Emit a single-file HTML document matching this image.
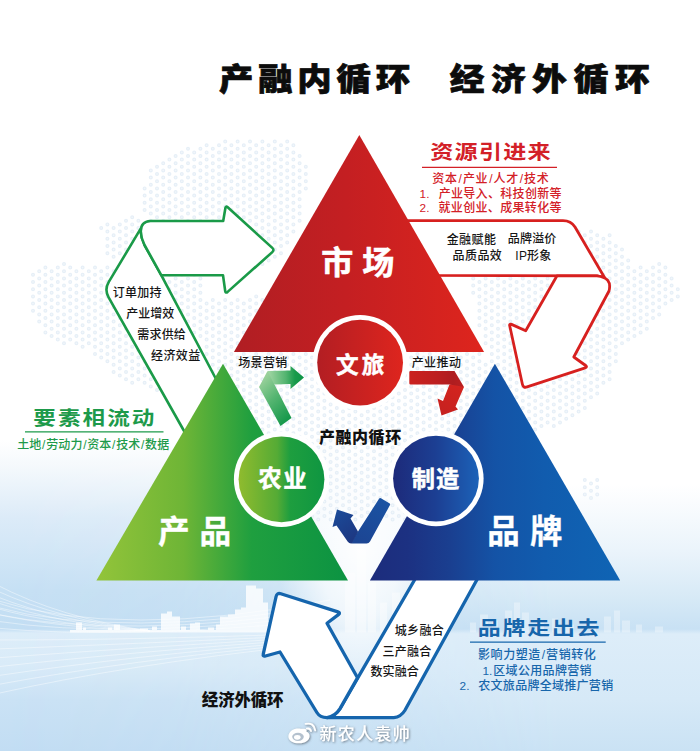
<!DOCTYPE html>
<html lang="zh"><head><meta charset="utf-8"><title>产融内循环 经济外循环</title>
<style>
html,body{margin:0;padding:0;background:#fff}
body{width:700px;height:751px;overflow:hidden;position:relative;font-family:"Liberation Sans",sans-serif}
svg{position:absolute;left:0;top:0;display:block}
svg text{font-family:"Liberation Sans","Noto Sans CJK SC",sans-serif}
.t{position:absolute;white-space:nowrap;color:transparent;line-height:1.2;font-family:"Liberation Sans",sans-serif}
</style></head><body>
<svg width="700" height="751" viewBox="0 0 700 751">
<defs>
<linearGradient id="bgL" x1="0" y1="0" x2="0" y2="751" gradientUnits="userSpaceOnUse"><stop offset="0.0000" stop-color="#fff"/><stop offset="0.5859" stop-color="#fff"/><stop offset="0.6258" stop-color="#f3f8fc"/><stop offset="0.6884" stop-color="#dcebf8"/><stop offset="0.7457" stop-color="#cfe5f6"/><stop offset="0.7856" stop-color="#c6e0f4"/><stop offset="0.8375" stop-color="#c3def3"/><stop offset="0.8429" stop-color="#ddedf9"/><stop offset="0.8855" stop-color="#d9ebf8"/><stop offset="0.9321" stop-color="#cae2f5"/><stop offset="1.0000" stop-color="#c2ddf3"/></linearGradient>
<linearGradient id="bgR" x1="0" y1="0" x2="0" y2="751" gradientUnits="userSpaceOnUse"><stop offset="0.0000" stop-color="#fff"/><stop offset="0.6445" stop-color="#fff"/><stop offset="0.7324" stop-color="#ebf4fb"/><stop offset="0.7989" stop-color="#d6e9f6"/><stop offset="0.8375" stop-color="#c8e1f4"/><stop offset="0.8442" stop-color="#ddedf9"/><stop offset="0.9321" stop-color="#d6e9f7"/><stop offset="1.0000" stop-color="#cae2f4"/></linearGradient>
<linearGradient id="mRg" x1="0" y1="0" x2="700" y2="0" gradientUnits="userSpaceOnUse"><stop offset="0" stop-color="#000"/><stop offset=".25" stop-color="#222"/><stop offset=".8" stop-color="#fff"/><stop offset="1" stop-color="#fff"/></linearGradient>
<mask id="mR" maskUnits="userSpaceOnUse" x="0" y="0" width="700" height="751"><rect width="700" height="751" fill="url(#mRg)"/></mask>
<linearGradient id="gr" x1="234" y1="0" x2="484" y2="0" gradientUnits="userSpaceOnUse">
<stop offset="0" stop-color="#b01e23"/><stop offset=".45" stop-color="#c41f22"/><stop offset="1" stop-color="#de251d"/></linearGradient>
<linearGradient id="gg" x1="96" y1="0" x2="347" y2="0" gradientUnits="userSpaceOnUse">
<stop offset="0" stop-color="#93c43a"/><stop offset=".35" stop-color="#6eb536"/><stop offset=".62" stop-color="#1f9f3f"/><stop offset="1" stop-color="#0c9342"/></linearGradient>
<linearGradient id="gb" x1="370" y1="0" x2="620" y2="0" gradientUnits="userSpaceOnUse">
<stop offset="0" stop-color="#1c2c7c"/><stop offset=".15" stop-color="#1c3182"/><stop offset=".32" stop-color="#1a3f90"/><stop offset=".5" stop-color="#1453a6"/><stop offset=".7" stop-color="#115cae"/><stop offset="1" stop-color="#0f64b4"/></linearGradient>
<linearGradient id="cr" x1="318" y1="0" x2="403" y2="0" gradientUnits="userSpaceOnUse">
<stop offset="0" stop-color="#b31e23"/><stop offset="1" stop-color="#de251e"/></linearGradient>
<linearGradient id="cg" x1="239" y1="0" x2="324" y2="0" gradientUnits="userSpaceOnUse">
<stop offset="0" stop-color="#8fbb2e"/><stop offset=".45" stop-color="#55ab35"/><stop offset=".6" stop-color="#1e9e3f"/><stop offset="1" stop-color="#0f9641"/></linearGradient>
<linearGradient id="cb" x1="393" y1="0" x2="479" y2="0" gradientUnits="userSpaceOnUse">
<stop offset="0" stop-color="#1d2a7a"/><stop offset=".5" stop-color="#1c3f93"/><stop offset="1" stop-color="#1c62b8"/></linearGradient>
<linearGradient id="sg1" x1="259" y1="383" x2="292" y2="416" gradientUnits="userSpaceOnUse">
<stop offset="0" stop-color="#98d09a"/><stop offset=".45" stop-color="#55b571"/><stop offset="1" stop-color="#15984a"/></linearGradient>
<linearGradient id="sg2" x1="268" y1="0" x2="304" y2="0" gradientUnits="userSpaceOnUse">
<stop offset="0" stop-color="#a2d6a4"/><stop offset=".5" stop-color="#52b46f"/><stop offset=".75" stop-color="#189a4b"/><stop offset="1" stop-color="#0d9446"/></linearGradient>
<linearGradient id="sr1" x1="409" y1="0" x2="464" y2="0" gradientUnits="userSpaceOnUse">
<stop offset="0" stop-color="#cb221f"/><stop offset=".5" stop-color="#bd1f20"/><stop offset=".8" stop-color="#ae1d20"/><stop offset="1" stop-color="#ba1f20"/></linearGradient>
<linearGradient id="sr2" x1="458" y1="385" x2="442" y2="414" gradientUnits="userSpaceOnUse">
<stop offset="0" stop-color="#d3241f"/><stop offset="1" stop-color="#c6211f"/></linearGradient>
<linearGradient id="sb1" x1="386" y1="500" x2="360" y2="543" gradientUnits="userSpaceOnUse">
<stop offset="0" stop-color="#1a53a3"/><stop offset="1" stop-color="#1c4593"/></linearGradient>
<linearGradient id="sb2" x1="356" y1="540" x2="336" y2="512" gradientUnits="userSpaceOnUse">
<stop offset="0" stop-color="#1d3781"/><stop offset=".5" stop-color="#1c408c"/><stop offset="1" stop-color="#1b4a98"/></linearGradient>
<radialGradient id="glow" cx="360" cy="545" r="150" gradientUnits="userSpaceOnUse" gradientTransform="translate(360,545) scale(.55,1) translate(-360,-545)">
<stop offset="0" stop-color="#fff" stop-opacity=".95"/><stop offset=".5" stop-color="#fff" stop-opacity=".7"/><stop offset="1" stop-color="#fff" stop-opacity="0"/></radialGradient>
<filter id="wm" x="-10%" y="-40%" width="120%" height="180%"><feDropShadow dx="0.8" dy="0.8" stdDeviation="0.9" flood-color="#55616d" flood-opacity=".85"/></filter>
</defs>
<rect width="700" height="751" fill="url(#bgL)"/>
<rect width="700" height="751" fill="url(#bgR)" mask="url(#mR)"/>
<rect x="180" y="400" width="360" height="330" fill="url(#glow)"/>
<path d="M33.0,274.8h.01M33.0,282.0h.01M33.0,289.2h.01M33.0,296.4h.01M33.0,303.6h.01M33.0,310.8h.01M39.2,271.2h.01M39.2,278.4h.01M39.2,285.6h.01M39.2,292.8h.01M39.2,300.0h.01M39.2,307.2h.01M39.2,314.4h.01M39.2,321.6h.01M45.4,267.6h.01M45.4,274.8h.01M45.4,282.0h.01M45.4,289.2h.01M45.4,296.4h.01M45.4,303.6h.01M45.4,310.8h.01M45.4,318.0h.01M45.4,325.2h.01M45.4,332.4h.01M51.6,271.2h.01M51.6,278.4h.01M51.6,285.6h.01M51.6,292.8h.01M51.6,300.0h.01M51.6,307.2h.01M51.6,314.4h.01M51.6,321.6h.01M51.6,328.8h.01M51.6,336.0h.01M57.8,267.6h.01M57.8,274.8h.01M57.8,282.0h.01M57.8,289.2h.01M57.8,296.4h.01M57.8,303.6h.01M57.8,310.8h.01M57.8,318.0h.01M57.8,325.2h.01M57.8,332.4h.01M57.8,339.6h.01M64.0,264.0h.01M64.0,271.2h.01M64.0,278.4h.01M64.0,285.6h.01M64.0,292.8h.01M64.0,300.0h.01M64.0,307.2h.01M64.0,314.4h.01M64.0,321.6h.01M64.0,328.8h.01M64.0,336.0h.01M64.0,343.2h.01M70.2,267.6h.01M70.2,274.8h.01M70.2,282.0h.01M70.2,289.2h.01M70.2,296.4h.01M70.2,303.6h.01M70.2,310.8h.01M70.2,318.0h.01M70.2,325.2h.01M70.2,332.4h.01M70.2,339.6h.01M76.4,271.2h.01M76.4,278.4h.01M76.4,285.6h.01M76.4,292.8h.01M76.4,300.0h.01M76.4,307.2h.01M76.4,314.4h.01M76.4,321.6h.01M76.4,328.8h.01M76.4,336.0h.01M76.4,343.2h.01M82.6,267.6h.01M82.6,274.8h.01M82.6,282.0h.01M82.6,289.2h.01M82.6,296.4h.01M82.6,303.6h.01M82.6,310.8h.01M82.6,318.0h.01M82.6,325.2h.01M82.6,332.4h.01M82.6,339.6h.01M82.6,346.8h.01M88.8,271.2h.01M88.8,278.4h.01M88.8,285.6h.01M88.8,292.8h.01M88.8,300.0h.01M88.8,307.2h.01M88.8,314.4h.01M88.8,321.6h.01M88.8,328.8h.01M88.8,336.0h.01M88.8,343.2h.01M95.0,267.6h.01M95.0,274.8h.01M95.0,282.0h.01M95.0,289.2h.01M95.0,296.4h.01M95.0,303.6h.01M95.0,310.8h.01M95.0,318.0h.01M95.0,325.2h.01M95.0,332.4h.01M95.0,339.6h.01M95.0,346.8h.01M95.0,354.0h.01M101.2,228.0h.01M101.2,271.2h.01M101.2,278.4h.01M101.2,285.6h.01M101.2,292.8h.01M101.2,300.0h.01M101.2,307.2h.01M101.2,314.4h.01M101.2,321.6h.01M101.2,328.8h.01M101.2,336.0h.01M101.2,343.2h.01M101.2,350.4h.01M101.2,357.6h.01M107.4,224.4h.01M107.4,231.6h.01M107.4,238.8h.01M107.4,246.0h.01M107.4,253.2h.01M107.4,267.6h.01M107.4,274.8h.01M107.4,282.0h.01M107.4,289.2h.01M107.4,296.4h.01M107.4,303.6h.01M107.4,310.8h.01M107.4,318.0h.01M107.4,325.2h.01M107.4,332.4h.01M107.4,339.6h.01M107.4,346.8h.01M107.4,354.0h.01M107.4,361.2h.01M113.6,228.0h.01M113.6,235.2h.01M113.6,242.4h.01M113.6,249.6h.01M113.6,256.8h.01M113.6,271.2h.01M113.6,278.4h.01M113.6,285.6h.01M113.6,292.8h.01M113.6,300.0h.01M113.6,307.2h.01M113.6,314.4h.01M113.6,321.6h.01M113.6,328.8h.01M113.6,336.0h.01M113.6,343.2h.01M113.6,350.4h.01M113.6,357.6h.01M113.6,364.8h.01M113.6,372.0h.01M119.8,224.4h.01M119.8,231.6h.01M119.8,238.8h.01M119.8,246.0h.01M119.8,253.2h.01M119.8,267.6h.01M119.8,274.8h.01M119.8,282.0h.01M119.8,289.2h.01M119.8,296.4h.01M119.8,303.6h.01M119.8,310.8h.01M119.8,318.0h.01M119.8,325.2h.01M119.8,332.4h.01M119.8,339.6h.01M119.8,346.8h.01M119.8,354.0h.01M119.8,361.2h.01M119.8,368.4h.01M119.8,375.6h.01M126.0,220.8h.01M126.0,228.0h.01M126.0,235.2h.01M126.0,242.4h.01M126.0,249.6h.01M126.0,256.8h.01M126.0,271.2h.01M126.0,278.4h.01M126.0,285.6h.01M126.0,292.8h.01M126.0,300.0h.01M126.0,307.2h.01M126.0,314.4h.01M126.0,321.6h.01M126.0,328.8h.01M126.0,336.0h.01M126.0,343.2h.01M126.0,350.4h.01M126.0,357.6h.01M126.0,364.8h.01M126.0,372.0h.01M126.0,379.2h.01M132.2,217.2h.01M132.2,224.4h.01M132.2,231.6h.01M132.2,238.8h.01M132.2,246.0h.01M132.2,253.2h.01M132.2,267.6h.01M132.2,274.8h.01M132.2,282.0h.01M132.2,289.2h.01M132.2,296.4h.01M132.2,303.6h.01M132.2,310.8h.01M132.2,318.0h.01M132.2,325.2h.01M132.2,332.4h.01M132.2,339.6h.01M132.2,346.8h.01M132.2,354.0h.01M132.2,361.2h.01M132.2,368.4h.01M132.2,375.6h.01M132.2,382.8h.01M138.4,220.8h.01M138.4,228.0h.01M138.4,235.2h.01M138.4,242.4h.01M138.4,249.6h.01M138.4,264.0h.01M138.4,271.2h.01M138.4,278.4h.01M138.4,285.6h.01M138.4,292.8h.01M138.4,300.0h.01M138.4,307.2h.01M138.4,314.4h.01M138.4,321.6h.01M138.4,328.8h.01M138.4,336.0h.01M138.4,343.2h.01M138.4,350.4h.01M138.4,357.6h.01M138.4,364.8h.01M138.4,372.0h.01M138.4,379.2h.01M144.6,188.4h.01M144.6,195.6h.01M144.6,202.8h.01M144.6,210.0h.01M144.6,231.6h.01M144.6,238.8h.01M144.6,267.6h.01M144.6,274.8h.01M144.6,282.0h.01M144.6,289.2h.01M144.6,296.4h.01M144.6,303.6h.01M144.6,310.8h.01M144.6,318.0h.01M144.6,325.2h.01M144.6,332.4h.01M144.6,339.6h.01M144.6,346.8h.01M144.6,354.0h.01M144.6,361.2h.01M144.6,368.4h.01M144.6,375.6h.01M144.6,382.8h.01M150.8,170.4h.01M150.8,177.6h.01M150.8,184.8h.01M150.8,192.0h.01M150.8,199.2h.01M150.8,206.4h.01M150.8,213.6h.01M150.8,220.8h.01M150.8,228.0h.01M150.8,264.0h.01M150.8,271.2h.01M150.8,278.4h.01M150.8,285.6h.01M150.8,292.8h.01M150.8,300.0h.01M150.8,307.2h.01M150.8,314.4h.01M150.8,321.6h.01M150.8,328.8h.01M150.8,336.0h.01M150.8,343.2h.01M150.8,350.4h.01M150.8,357.6h.01M150.8,364.8h.01M150.8,372.0h.01M150.8,379.2h.01M150.8,386.4h.01M157.0,166.8h.01M157.0,174.0h.01M157.0,181.2h.01M157.0,188.4h.01M157.0,195.6h.01M157.0,202.8h.01M157.0,210.0h.01M157.0,217.2h.01M157.0,224.4h.01M157.0,231.6h.01M157.0,267.6h.01M157.0,274.8h.01M157.0,282.0h.01M157.0,289.2h.01M157.0,296.4h.01M157.0,303.6h.01M157.0,310.8h.01M157.0,318.0h.01M157.0,325.2h.01M157.0,332.4h.01M157.0,339.6h.01M157.0,346.8h.01M157.0,354.0h.01M157.0,361.2h.01M157.0,368.4h.01M157.0,375.6h.01M157.0,382.8h.01M157.0,390.0h.01M163.2,163.2h.01M163.2,170.4h.01M163.2,177.6h.01M163.2,184.8h.01M163.2,192.0h.01M163.2,199.2h.01M163.2,206.4h.01M163.2,213.6h.01M163.2,220.8h.01M163.2,228.0h.01M163.2,235.2h.01M163.2,242.4h.01M163.2,271.2h.01M163.2,278.4h.01M163.2,285.6h.01M163.2,292.8h.01M163.2,300.0h.01M163.2,307.2h.01M163.2,314.4h.01M163.2,321.6h.01M163.2,328.8h.01M163.2,336.0h.01M163.2,343.2h.01M163.2,350.4h.01M163.2,357.6h.01M163.2,364.8h.01M163.2,372.0h.01M163.2,379.2h.01M163.2,386.4h.01M169.4,159.6h.01M169.4,166.8h.01M169.4,174.0h.01M169.4,181.2h.01M169.4,188.4h.01M169.4,195.6h.01M169.4,202.8h.01M169.4,210.0h.01M169.4,217.2h.01M169.4,224.4h.01M169.4,231.6h.01M169.4,238.8h.01M169.4,246.0h.01M169.4,267.6h.01M169.4,274.8h.01M169.4,282.0h.01M169.4,289.2h.01M169.4,296.4h.01M169.4,303.6h.01M169.4,310.8h.01M169.4,318.0h.01M169.4,325.2h.01M169.4,332.4h.01M169.4,339.6h.01M169.4,346.8h.01M169.4,354.0h.01M169.4,361.2h.01M169.4,368.4h.01M169.4,375.6h.01M169.4,382.8h.01M175.6,156.0h.01M175.6,163.2h.01M175.6,170.4h.01M175.6,177.6h.01M175.6,184.8h.01M175.6,192.0h.01M175.6,199.2h.01M175.6,206.4h.01M175.6,213.6h.01M175.6,220.8h.01M175.6,228.0h.01M175.6,235.2h.01M175.6,242.4h.01M175.6,249.6h.01M175.6,256.8h.01M175.6,271.2h.01M175.6,278.4h.01M175.6,285.6h.01M175.6,292.8h.01M175.6,300.0h.01M175.6,307.2h.01M175.6,314.4h.01M175.6,321.6h.01M175.6,328.8h.01M175.6,336.0h.01M175.6,343.2h.01M175.6,350.4h.01M175.6,357.6h.01M175.6,364.8h.01M175.6,372.0h.01M175.6,379.2h.01M181.8,152.4h.01M181.8,159.6h.01M181.8,166.8h.01M181.8,174.0h.01M181.8,181.2h.01M181.8,188.4h.01M181.8,195.6h.01M181.8,202.8h.01M181.8,210.0h.01M181.8,217.2h.01M181.8,224.4h.01M181.8,231.6h.01M181.8,238.8h.01M181.8,246.0h.01M181.8,253.2h.01M181.8,260.4h.01M181.8,267.6h.01M181.8,274.8h.01M181.8,282.0h.01M181.8,289.2h.01M181.8,296.4h.01M181.8,303.6h.01M181.8,310.8h.01M181.8,318.0h.01M181.8,325.2h.01M181.8,332.4h.01M181.8,339.6h.01M181.8,346.8h.01M181.8,354.0h.01M181.8,361.2h.01M181.8,368.4h.01M181.8,375.6h.01M188.0,148.8h.01M188.0,156.0h.01M188.0,163.2h.01M188.0,170.4h.01M188.0,177.6h.01M188.0,184.8h.01M188.0,192.0h.01M188.0,199.2h.01M188.0,206.4h.01M188.0,213.6h.01M188.0,220.8h.01M188.0,228.0h.01M188.0,235.2h.01M188.0,242.4h.01M188.0,249.6h.01M188.0,256.8h.01M188.0,271.2h.01M188.0,278.4h.01M188.0,285.6h.01M188.0,292.8h.01M188.0,300.0h.01M188.0,307.2h.01M188.0,314.4h.01M188.0,321.6h.01M188.0,328.8h.01M188.0,336.0h.01M188.0,343.2h.01M188.0,350.4h.01M188.0,357.6h.01M188.0,364.8h.01M188.0,372.0h.01M194.2,152.4h.01M194.2,159.6h.01M194.2,166.8h.01M194.2,174.0h.01M194.2,181.2h.01M194.2,188.4h.01M194.2,195.6h.01M194.2,202.8h.01M194.2,210.0h.01M194.2,217.2h.01M194.2,224.4h.01M194.2,231.6h.01M194.2,238.8h.01M194.2,246.0h.01M194.2,253.2h.01M194.2,260.4h.01M194.2,274.8h.01M194.2,282.0h.01M194.2,289.2h.01M194.2,296.4h.01M194.2,303.6h.01M194.2,310.8h.01M194.2,318.0h.01M194.2,325.2h.01M194.2,332.4h.01M194.2,339.6h.01M194.2,346.8h.01M194.2,354.0h.01M200.4,148.8h.01M200.4,156.0h.01M200.4,163.2h.01M200.4,170.4h.01M200.4,177.6h.01M200.4,184.8h.01M200.4,192.0h.01M200.4,199.2h.01M200.4,206.4h.01M200.4,213.6h.01M200.4,220.8h.01M200.4,228.0h.01M200.4,235.2h.01M200.4,242.4h.01M200.4,249.6h.01M200.4,256.8h.01M200.4,264.0h.01M200.4,278.4h.01M200.4,285.6h.01M200.4,292.8h.01M200.4,300.0h.01M200.4,307.2h.01M200.4,314.4h.01M200.4,321.6h.01M200.4,328.8h.01M200.4,336.0h.01M200.4,393.6h.01M200.4,400.8h.01M200.4,408.0h.01M200.4,415.2h.01M200.4,422.4h.01M200.4,429.6h.01M200.4,436.8h.01M200.4,444.0h.01M206.6,145.2h.01M206.6,152.4h.01M206.6,159.6h.01M206.6,166.8h.01M206.6,174.0h.01M206.6,181.2h.01M206.6,188.4h.01M206.6,195.6h.01M206.6,202.8h.01M206.6,210.0h.01M206.6,217.2h.01M206.6,224.4h.01M206.6,231.6h.01M206.6,238.8h.01M206.6,246.0h.01M206.6,253.2h.01M206.6,260.4h.01M206.6,303.6h.01M206.6,310.8h.01M206.6,318.0h.01M206.6,325.2h.01M206.6,332.4h.01M206.6,339.6h.01M206.6,346.8h.01M206.6,354.0h.01M206.6,361.2h.01M206.6,368.4h.01M206.6,375.6h.01M206.6,397.2h.01M206.6,404.4h.01M206.6,411.6h.01M206.6,418.8h.01M206.6,426.0h.01M206.6,433.2h.01M206.6,440.4h.01M206.6,447.6h.01M206.6,454.8h.01M212.8,148.8h.01M212.8,156.0h.01M212.8,163.2h.01M212.8,170.4h.01M212.8,177.6h.01M212.8,184.8h.01M212.8,192.0h.01M212.8,199.2h.01M212.8,206.4h.01M212.8,213.6h.01M212.8,220.8h.01M212.8,228.0h.01M212.8,235.2h.01M212.8,242.4h.01M212.8,249.6h.01M212.8,256.8h.01M212.8,264.0h.01M212.8,300.0h.01M212.8,307.2h.01M212.8,314.4h.01M212.8,321.6h.01M212.8,328.8h.01M212.8,336.0h.01M212.8,343.2h.01M212.8,350.4h.01M212.8,357.6h.01M212.8,364.8h.01M212.8,372.0h.01M212.8,379.2h.01M212.8,386.4h.01M212.8,400.8h.01M212.8,408.0h.01M212.8,415.2h.01M212.8,422.4h.01M212.8,429.6h.01M212.8,436.8h.01M212.8,444.0h.01M212.8,451.2h.01M212.8,458.4h.01M219.0,145.2h.01M219.0,152.4h.01M219.0,159.6h.01M219.0,166.8h.01M219.0,174.0h.01M219.0,181.2h.01M219.0,188.4h.01M219.0,195.6h.01M219.0,202.8h.01M219.0,210.0h.01M219.0,217.2h.01M219.0,224.4h.01M219.0,231.6h.01M219.0,238.8h.01M219.0,246.0h.01M219.0,253.2h.01M219.0,260.4h.01M219.0,267.6h.01M219.0,303.6h.01M219.0,310.8h.01M219.0,318.0h.01M219.0,325.2h.01M219.0,332.4h.01M219.0,339.6h.01M219.0,346.8h.01M219.0,354.0h.01M219.0,361.2h.01M219.0,368.4h.01M219.0,375.6h.01M219.0,382.8h.01M219.0,390.0h.01M219.0,397.2h.01M219.0,404.4h.01M219.0,411.6h.01M219.0,418.8h.01M219.0,426.0h.01M219.0,433.2h.01M219.0,440.4h.01M219.0,447.6h.01M219.0,454.8h.01M219.0,462.0h.01M219.0,469.2h.01M225.2,141.6h.01M225.2,148.8h.01M225.2,156.0h.01M225.2,163.2h.01M225.2,170.4h.01M225.2,177.6h.01M225.2,184.8h.01M225.2,192.0h.01M225.2,199.2h.01M225.2,206.4h.01M225.2,213.6h.01M225.2,220.8h.01M225.2,228.0h.01M225.2,235.2h.01M225.2,242.4h.01M225.2,249.6h.01M225.2,256.8h.01M225.2,264.0h.01M225.2,300.0h.01M225.2,307.2h.01M225.2,314.4h.01M225.2,321.6h.01M225.2,328.8h.01M225.2,336.0h.01M225.2,343.2h.01M225.2,350.4h.01M225.2,357.6h.01M225.2,364.8h.01M225.2,372.0h.01M225.2,379.2h.01M225.2,386.4h.01M225.2,393.6h.01M225.2,400.8h.01M225.2,408.0h.01M225.2,415.2h.01M225.2,422.4h.01M225.2,429.6h.01M225.2,436.8h.01M225.2,444.0h.01M225.2,451.2h.01M225.2,458.4h.01M225.2,465.6h.01M225.2,472.8h.01M231.4,145.2h.01M231.4,152.4h.01M231.4,159.6h.01M231.4,166.8h.01M231.4,174.0h.01M231.4,181.2h.01M231.4,188.4h.01M231.4,195.6h.01M231.4,202.8h.01M231.4,210.0h.01M231.4,217.2h.01M231.4,224.4h.01M231.4,231.6h.01M231.4,238.8h.01M231.4,246.0h.01M231.4,253.2h.01M231.4,260.4h.01M231.4,267.6h.01M231.4,303.6h.01M231.4,310.8h.01M231.4,318.0h.01M231.4,325.2h.01M231.4,332.4h.01M231.4,339.6h.01M231.4,346.8h.01M231.4,354.0h.01M231.4,361.2h.01M231.4,368.4h.01M231.4,375.6h.01M231.4,382.8h.01M231.4,390.0h.01M231.4,397.2h.01M231.4,404.4h.01M231.4,411.6h.01M231.4,418.8h.01M231.4,426.0h.01M231.4,433.2h.01M231.4,440.4h.01M231.4,447.6h.01M231.4,454.8h.01M231.4,462.0h.01M231.4,469.2h.01M237.6,141.6h.01M237.6,148.8h.01M237.6,156.0h.01M237.6,163.2h.01M237.6,170.4h.01M237.6,177.6h.01M237.6,184.8h.01M237.6,192.0h.01M237.6,199.2h.01M237.6,206.4h.01M237.6,213.6h.01M237.6,220.8h.01M237.6,228.0h.01M237.6,235.2h.01M237.6,242.4h.01M237.6,249.6h.01M237.6,256.8h.01M237.6,264.0h.01M237.6,300.0h.01M237.6,307.2h.01M237.6,314.4h.01M237.6,321.6h.01M237.6,328.8h.01M237.6,336.0h.01M237.6,343.2h.01M237.6,350.4h.01M237.6,357.6h.01M237.6,364.8h.01M237.6,372.0h.01M237.6,379.2h.01M237.6,386.4h.01M237.6,393.6h.01M237.6,400.8h.01M237.6,408.0h.01M237.6,415.2h.01M237.6,422.4h.01M237.6,429.6h.01M237.6,436.8h.01M237.6,444.0h.01M237.6,451.2h.01M237.6,458.4h.01M243.8,145.2h.01M243.8,152.4h.01M243.8,159.6h.01M243.8,166.8h.01M243.8,174.0h.01M243.8,181.2h.01M243.8,188.4h.01M243.8,195.6h.01M243.8,202.8h.01M243.8,210.0h.01M243.8,217.2h.01M243.8,224.4h.01M243.8,231.6h.01M243.8,238.8h.01M243.8,246.0h.01M243.8,253.2h.01M243.8,260.4h.01M243.8,267.6h.01M243.8,303.6h.01M243.8,310.8h.01M243.8,318.0h.01M243.8,325.2h.01M243.8,332.4h.01M243.8,339.6h.01M243.8,346.8h.01M243.8,354.0h.01M243.8,361.2h.01M243.8,368.4h.01M243.8,375.6h.01M243.8,382.8h.01M243.8,390.0h.01M243.8,397.2h.01M243.8,404.4h.01M243.8,411.6h.01M243.8,418.8h.01M243.8,426.0h.01M243.8,433.2h.01M243.8,440.4h.01M243.8,447.6h.01M243.8,454.8h.01M250.0,141.6h.01M250.0,148.8h.01M250.0,156.0h.01M250.0,163.2h.01M250.0,170.4h.01M250.0,177.6h.01M250.0,184.8h.01M250.0,192.0h.01M250.0,199.2h.01M250.0,206.4h.01M250.0,213.6h.01M250.0,220.8h.01M250.0,228.0h.01M250.0,235.2h.01M250.0,242.4h.01M250.0,249.6h.01M250.0,256.8h.01M250.0,264.0h.01M250.0,300.0h.01M250.0,307.2h.01M250.0,314.4h.01M250.0,321.6h.01M250.0,328.8h.01M250.0,336.0h.01M250.0,343.2h.01M250.0,350.4h.01M250.0,357.6h.01M250.0,364.8h.01M250.0,372.0h.01M250.0,379.2h.01M250.0,386.4h.01M250.0,393.6h.01M250.0,400.8h.01M250.0,408.0h.01M250.0,415.2h.01M250.0,422.4h.01M250.0,429.6h.01M250.0,436.8h.01M250.0,444.0h.01M250.0,451.2h.01M256.2,145.2h.01M256.2,152.4h.01M256.2,159.6h.01M256.2,166.8h.01M256.2,174.0h.01M256.2,181.2h.01M256.2,188.4h.01M256.2,195.6h.01M256.2,202.8h.01M256.2,210.0h.01M256.2,217.2h.01M256.2,224.4h.01M256.2,231.6h.01M256.2,238.8h.01M256.2,246.0h.01M256.2,253.2h.01M256.2,260.4h.01M256.2,296.4h.01M256.2,303.6h.01M256.2,310.8h.01M256.2,318.0h.01M256.2,325.2h.01M256.2,332.4h.01M256.2,339.6h.01M256.2,346.8h.01M256.2,354.0h.01M256.2,361.2h.01M256.2,368.4h.01M256.2,375.6h.01M256.2,382.8h.01M256.2,390.0h.01M256.2,397.2h.01M256.2,404.4h.01M256.2,411.6h.01M256.2,418.8h.01M256.2,426.0h.01M256.2,433.2h.01M256.2,440.4h.01M256.2,447.6h.01M256.2,454.8h.01M262.4,141.6h.01M262.4,148.8h.01M262.4,156.0h.01M262.4,163.2h.01M262.4,170.4h.01M262.4,177.6h.01M262.4,184.8h.01M262.4,192.0h.01M262.4,199.2h.01M262.4,206.4h.01M262.4,213.6h.01M262.4,220.8h.01M262.4,228.0h.01M262.4,235.2h.01M262.4,242.4h.01M262.4,249.6h.01M262.4,256.8h.01M262.4,264.0h.01M262.4,300.0h.01M262.4,307.2h.01M262.4,314.4h.01M262.4,321.6h.01M262.4,328.8h.01M262.4,336.0h.01M262.4,343.2h.01M262.4,350.4h.01M262.4,357.6h.01M262.4,364.8h.01M262.4,372.0h.01M262.4,379.2h.01M262.4,386.4h.01M262.4,393.6h.01M262.4,400.8h.01M262.4,408.0h.01M262.4,415.2h.01M262.4,422.4h.01M262.4,429.6h.01M262.4,436.8h.01M262.4,444.0h.01M262.4,451.2h.01M262.4,458.4h.01M262.4,465.6h.01M268.6,145.2h.01M268.6,152.4h.01M268.6,159.6h.01M268.6,166.8h.01M268.6,174.0h.01M268.6,181.2h.01M268.6,188.4h.01M268.6,195.6h.01M268.6,202.8h.01M268.6,210.0h.01M268.6,217.2h.01M268.6,224.4h.01M268.6,231.6h.01M268.6,238.8h.01M268.6,246.0h.01M268.6,253.2h.01M268.6,260.4h.01M268.6,296.4h.01M268.6,303.6h.01M268.6,310.8h.01M268.6,318.0h.01M268.6,325.2h.01M268.6,332.4h.01M268.6,339.6h.01M268.6,346.8h.01M268.6,354.0h.01M268.6,361.2h.01M268.6,368.4h.01M268.6,375.6h.01M268.6,382.8h.01M268.6,390.0h.01M268.6,397.2h.01M268.6,404.4h.01M268.6,411.6h.01M268.6,418.8h.01M268.6,426.0h.01M268.6,433.2h.01M268.6,440.4h.01M268.6,447.6h.01M268.6,454.8h.01M268.6,462.0h.01M268.6,469.2h.01M268.6,476.4h.01M274.8,141.6h.01M274.8,148.8h.01M274.8,156.0h.01M274.8,163.2h.01M274.8,170.4h.01M274.8,177.6h.01M274.8,184.8h.01M274.8,192.0h.01M274.8,199.2h.01M274.8,206.4h.01M274.8,213.6h.01M274.8,220.8h.01M274.8,228.0h.01M274.8,235.2h.01M274.8,242.4h.01M274.8,249.6h.01M274.8,256.8h.01M274.8,300.0h.01M274.8,307.2h.01M274.8,314.4h.01M274.8,321.6h.01M274.8,328.8h.01M274.8,336.0h.01M274.8,343.2h.01M274.8,350.4h.01M274.8,357.6h.01M274.8,364.8h.01M274.8,372.0h.01M274.8,379.2h.01M274.8,386.4h.01M274.8,393.6h.01M274.8,400.8h.01M274.8,408.0h.01M274.8,415.2h.01M274.8,422.4h.01M274.8,429.6h.01M274.8,436.8h.01M274.8,444.0h.01M274.8,451.2h.01M274.8,458.4h.01M274.8,465.6h.01M274.8,472.8h.01M274.8,480.0h.01M281.0,145.2h.01M281.0,152.4h.01M281.0,159.6h.01M281.0,166.8h.01M281.0,174.0h.01M281.0,181.2h.01M281.0,188.4h.01M281.0,195.6h.01M281.0,202.8h.01M281.0,210.0h.01M281.0,217.2h.01M281.0,224.4h.01M281.0,231.6h.01M281.0,238.8h.01M281.0,246.0h.01M281.0,253.2h.01M281.0,296.4h.01M281.0,303.6h.01M281.0,310.8h.01M281.0,318.0h.01M281.0,325.2h.01M281.0,332.4h.01M281.0,339.6h.01M281.0,346.8h.01M281.0,354.0h.01M281.0,361.2h.01M281.0,368.4h.01M281.0,375.6h.01M281.0,382.8h.01M281.0,390.0h.01M281.0,397.2h.01M281.0,404.4h.01M281.0,411.6h.01M281.0,418.8h.01M281.0,426.0h.01M281.0,433.2h.01M281.0,440.4h.01M281.0,447.6h.01M281.0,454.8h.01M281.0,462.0h.01M281.0,469.2h.01M281.0,476.4h.01M281.0,483.6h.01M281.0,490.8h.01M287.2,141.6h.01M287.2,148.8h.01M287.2,156.0h.01M287.2,163.2h.01M287.2,170.4h.01M287.2,177.6h.01M287.2,184.8h.01M287.2,192.0h.01M287.2,199.2h.01M287.2,206.4h.01M287.2,213.6h.01M287.2,220.8h.01M287.2,228.0h.01M287.2,235.2h.01M287.2,242.4h.01M287.2,300.0h.01M287.2,307.2h.01M287.2,314.4h.01M287.2,321.6h.01M287.2,328.8h.01M287.2,336.0h.01M287.2,343.2h.01M287.2,350.4h.01M287.2,357.6h.01M287.2,364.8h.01M287.2,372.0h.01M287.2,379.2h.01M287.2,386.4h.01M287.2,393.6h.01M287.2,400.8h.01M287.2,408.0h.01M287.2,415.2h.01M287.2,422.4h.01M287.2,429.6h.01M287.2,436.8h.01M287.2,444.0h.01M287.2,451.2h.01M287.2,458.4h.01M287.2,465.6h.01M287.2,472.8h.01M287.2,480.0h.01M287.2,487.2h.01M287.2,494.4h.01M287.2,501.6h.01M293.4,145.2h.01M293.4,152.4h.01M293.4,159.6h.01M293.4,166.8h.01M293.4,174.0h.01M293.4,181.2h.01M293.4,188.4h.01M293.4,195.6h.01M293.4,202.8h.01M293.4,210.0h.01M293.4,217.2h.01M293.4,224.4h.01M293.4,231.6h.01M293.4,296.4h.01M293.4,303.6h.01M293.4,310.8h.01M293.4,318.0h.01M293.4,325.2h.01M293.4,332.4h.01M293.4,339.6h.01M293.4,346.8h.01M293.4,354.0h.01M293.4,361.2h.01M293.4,368.4h.01M293.4,375.6h.01M293.4,382.8h.01M293.4,390.0h.01M293.4,397.2h.01M293.4,404.4h.01M293.4,411.6h.01M293.4,418.8h.01M293.4,426.0h.01M293.4,433.2h.01M293.4,440.4h.01M293.4,447.6h.01M293.4,454.8h.01M293.4,462.0h.01M293.4,469.2h.01M293.4,476.4h.01M293.4,483.6h.01M293.4,490.8h.01M293.4,498.0h.01M293.4,505.2h.01M299.6,156.0h.01M299.6,163.2h.01M299.6,170.4h.01M299.6,177.6h.01M299.6,184.8h.01M299.6,192.0h.01M299.6,199.2h.01M299.6,206.4h.01M299.6,213.6h.01M299.6,220.8h.01M299.6,292.8h.01M299.6,300.0h.01M299.6,307.2h.01M299.6,314.4h.01M299.6,321.6h.01M299.6,328.8h.01M299.6,336.0h.01M299.6,343.2h.01M299.6,350.4h.01M299.6,357.6h.01M299.6,364.8h.01M299.6,372.0h.01M299.6,379.2h.01M299.6,386.4h.01M299.6,393.6h.01M299.6,400.8h.01M299.6,408.0h.01M299.6,415.2h.01M299.6,422.4h.01M299.6,429.6h.01M299.6,436.8h.01M299.6,444.0h.01M299.6,451.2h.01M299.6,458.4h.01M299.6,465.6h.01M299.6,472.8h.01M299.6,480.0h.01M299.6,487.2h.01M299.6,494.4h.01M299.6,501.6h.01M299.6,508.8h.01M299.6,516.0h.01M305.8,166.8h.01M305.8,174.0h.01M305.8,181.2h.01M305.8,188.4h.01M305.8,296.4h.01M305.8,303.6h.01M305.8,310.8h.01M305.8,318.0h.01M305.8,325.2h.01M305.8,332.4h.01M305.8,339.6h.01M305.8,346.8h.01M305.8,354.0h.01M305.8,361.2h.01M305.8,368.4h.01M305.8,375.6h.01M305.8,382.8h.01M305.8,390.0h.01M305.8,397.2h.01M305.8,404.4h.01M305.8,411.6h.01M305.8,418.8h.01M305.8,426.0h.01M305.8,433.2h.01M305.8,440.4h.01M305.8,447.6h.01M305.8,454.8h.01M305.8,462.0h.01M305.8,469.2h.01M305.8,476.4h.01M305.8,483.6h.01M305.8,490.8h.01M305.8,498.0h.01M305.8,505.2h.01M305.8,512.4h.01M305.8,519.6h.01M312.0,292.8h.01M312.0,300.0h.01M312.0,307.2h.01M312.0,314.4h.01M312.0,321.6h.01M312.0,328.8h.01M312.0,336.0h.01M312.0,343.2h.01M312.0,350.4h.01M312.0,357.6h.01M312.0,364.8h.01M312.0,372.0h.01M312.0,379.2h.01M312.0,386.4h.01M312.0,393.6h.01M312.0,400.8h.01M312.0,408.0h.01M312.0,415.2h.01M312.0,422.4h.01M312.0,429.6h.01M312.0,436.8h.01M312.0,444.0h.01M312.0,451.2h.01M312.0,458.4h.01M312.0,465.6h.01M312.0,472.8h.01M312.0,480.0h.01M312.0,487.2h.01M312.0,494.4h.01M312.0,501.6h.01M312.0,508.8h.01M312.0,516.0h.01M318.2,296.4h.01M318.2,303.6h.01M318.2,310.8h.01M318.2,318.0h.01M318.2,325.2h.01M318.2,332.4h.01M318.2,339.6h.01M318.2,346.8h.01M318.2,354.0h.01M318.2,361.2h.01M318.2,368.4h.01M318.2,375.6h.01M318.2,382.8h.01M318.2,390.0h.01M318.2,397.2h.01M318.2,404.4h.01M318.2,411.6h.01M318.2,418.8h.01M318.2,426.0h.01M318.2,433.2h.01M318.2,440.4h.01M318.2,447.6h.01M318.2,454.8h.01M318.2,462.0h.01M318.2,469.2h.01M318.2,476.4h.01M318.2,483.6h.01M318.2,490.8h.01M318.2,498.0h.01M318.2,505.2h.01M318.2,512.4h.01M318.2,519.6h.01M324.4,292.8h.01M324.4,300.0h.01M324.4,307.2h.01M324.4,314.4h.01M324.4,321.6h.01M324.4,328.8h.01M324.4,336.0h.01M324.4,343.2h.01M324.4,350.4h.01M324.4,357.6h.01M324.4,364.8h.01M324.4,372.0h.01M324.4,379.2h.01M324.4,386.4h.01M324.4,393.6h.01M324.4,400.8h.01M324.4,408.0h.01M324.4,415.2h.01M324.4,422.4h.01M324.4,429.6h.01M324.4,436.8h.01M324.4,444.0h.01M324.4,451.2h.01M324.4,458.4h.01M324.4,465.6h.01M324.4,472.8h.01M324.4,480.0h.01M324.4,487.2h.01M324.4,494.4h.01M324.4,501.6h.01M324.4,508.8h.01M324.4,516.0h.01M330.6,296.4h.01M330.6,303.6h.01M330.6,310.8h.01M330.6,318.0h.01M330.6,325.2h.01M330.6,332.4h.01M330.6,339.6h.01M330.6,346.8h.01M330.6,354.0h.01M330.6,361.2h.01M330.6,368.4h.01M330.6,375.6h.01M330.6,382.8h.01M330.6,390.0h.01M330.6,397.2h.01M330.6,404.4h.01M330.6,411.6h.01M330.6,418.8h.01M330.6,426.0h.01M330.6,433.2h.01M330.6,440.4h.01M330.6,447.6h.01M330.6,454.8h.01M330.6,462.0h.01M330.6,469.2h.01M330.6,476.4h.01M330.6,483.6h.01M330.6,490.8h.01M330.6,498.0h.01M330.6,505.2h.01M330.6,512.4h.01M330.6,519.6h.01M336.8,292.8h.01M336.8,300.0h.01M336.8,307.2h.01M336.8,314.4h.01M336.8,321.6h.01M336.8,328.8h.01M336.8,336.0h.01M336.8,343.2h.01M336.8,350.4h.01M336.8,357.6h.01M336.8,364.8h.01M336.8,372.0h.01M336.8,379.2h.01M336.8,386.4h.01M336.8,393.6h.01M336.8,400.8h.01M336.8,408.0h.01M336.8,415.2h.01M336.8,422.4h.01M336.8,429.6h.01M336.8,436.8h.01M336.8,444.0h.01M336.8,451.2h.01M336.8,458.4h.01M336.8,465.6h.01M336.8,472.8h.01M336.8,480.0h.01M336.8,487.2h.01M336.8,494.4h.01M336.8,501.6h.01M336.8,508.8h.01M336.8,516.0h.01M343.0,296.4h.01M343.0,303.6h.01M343.0,310.8h.01M343.0,318.0h.01M343.0,325.2h.01M343.0,332.4h.01M343.0,339.6h.01M343.0,346.8h.01M343.0,354.0h.01M343.0,361.2h.01M343.0,368.4h.01M343.0,375.6h.01M343.0,382.8h.01M343.0,390.0h.01M343.0,397.2h.01M343.0,404.4h.01M343.0,411.6h.01M343.0,418.8h.01M343.0,426.0h.01M343.0,433.2h.01M343.0,440.4h.01M343.0,447.6h.01M343.0,454.8h.01M343.0,462.0h.01M343.0,469.2h.01M343.0,476.4h.01M343.0,483.6h.01M343.0,490.8h.01M343.0,498.0h.01M343.0,505.2h.01M343.0,512.4h.01M343.0,519.6h.01M349.2,300.0h.01M349.2,307.2h.01M349.2,314.4h.01M349.2,321.6h.01M349.2,328.8h.01M349.2,336.0h.01M349.2,343.2h.01M349.2,350.4h.01M349.2,357.6h.01M349.2,364.8h.01M349.2,372.0h.01M349.2,379.2h.01M349.2,386.4h.01M349.2,393.6h.01M349.2,400.8h.01M349.2,408.0h.01M349.2,415.2h.01M349.2,422.4h.01M349.2,429.6h.01M349.2,436.8h.01M349.2,444.0h.01M349.2,451.2h.01M349.2,458.4h.01M349.2,465.6h.01M349.2,472.8h.01M349.2,480.0h.01M349.2,487.2h.01M349.2,494.4h.01M349.2,501.6h.01M349.2,508.8h.01M349.2,516.0h.01M355.4,303.6h.01M355.4,310.8h.01M355.4,318.0h.01M355.4,325.2h.01M355.4,332.4h.01M355.4,339.6h.01M355.4,346.8h.01M355.4,354.0h.01M355.4,361.2h.01M355.4,368.4h.01M355.4,375.6h.01M355.4,382.8h.01M355.4,390.0h.01M355.4,397.2h.01M355.4,404.4h.01M355.4,411.6h.01M355.4,418.8h.01M355.4,426.0h.01M355.4,433.2h.01M355.4,440.4h.01M355.4,447.6h.01M355.4,454.8h.01M355.4,462.0h.01M355.4,469.2h.01M355.4,476.4h.01M355.4,483.6h.01M355.4,490.8h.01M355.4,498.0h.01M355.4,505.2h.01M355.4,512.4h.01M355.4,519.6h.01M361.6,300.0h.01M361.6,307.2h.01M361.6,314.4h.01M361.6,321.6h.01M361.6,328.8h.01M361.6,336.0h.01M361.6,343.2h.01M361.6,350.4h.01M361.6,357.6h.01M361.6,364.8h.01M361.6,372.0h.01M361.6,379.2h.01M361.6,386.4h.01M361.6,393.6h.01M361.6,400.8h.01M361.6,408.0h.01M361.6,415.2h.01M361.6,422.4h.01M361.6,429.6h.01M361.6,436.8h.01M361.6,444.0h.01M361.6,451.2h.01M361.6,458.4h.01M361.6,465.6h.01M361.6,472.8h.01M361.6,480.0h.01M361.6,487.2h.01M361.6,494.4h.01M361.6,501.6h.01M361.6,508.8h.01M361.6,516.0h.01M367.8,303.6h.01M367.8,310.8h.01M367.8,318.0h.01M367.8,325.2h.01M367.8,332.4h.01M367.8,339.6h.01M367.8,346.8h.01M367.8,354.0h.01M367.8,361.2h.01M367.8,368.4h.01M367.8,375.6h.01M367.8,382.8h.01M367.8,390.0h.01M367.8,397.2h.01M367.8,404.4h.01M367.8,411.6h.01M367.8,418.8h.01M367.8,426.0h.01M367.8,433.2h.01M367.8,440.4h.01M367.8,447.6h.01M367.8,454.8h.01M367.8,462.0h.01M367.8,469.2h.01M367.8,476.4h.01M367.8,483.6h.01M367.8,490.8h.01M367.8,498.0h.01M367.8,505.2h.01M367.8,512.4h.01M367.8,519.6h.01M374.0,307.2h.01M374.0,314.4h.01M374.0,321.6h.01M374.0,328.8h.01M374.0,336.0h.01M374.0,343.2h.01M374.0,350.4h.01M374.0,357.6h.01M374.0,364.8h.01M374.0,372.0h.01M374.0,379.2h.01M374.0,386.4h.01M374.0,393.6h.01M374.0,400.8h.01M374.0,408.0h.01M374.0,415.2h.01M374.0,422.4h.01M374.0,429.6h.01M374.0,436.8h.01M374.0,444.0h.01M374.0,451.2h.01M374.0,458.4h.01M374.0,465.6h.01M374.0,472.8h.01M374.0,480.0h.01M374.0,487.2h.01M374.0,494.4h.01M374.0,501.6h.01M374.0,508.8h.01M374.0,516.0h.01M380.2,310.8h.01M380.2,318.0h.01M380.2,325.2h.01M380.2,332.4h.01M380.2,339.6h.01M380.2,346.8h.01M380.2,354.0h.01M380.2,361.2h.01M380.2,368.4h.01M380.2,375.6h.01M380.2,382.8h.01M380.2,390.0h.01M380.2,397.2h.01M380.2,404.4h.01M380.2,411.6h.01M380.2,418.8h.01M380.2,426.0h.01M380.2,433.2h.01M380.2,440.4h.01M380.2,447.6h.01M380.2,454.8h.01M380.2,462.0h.01M380.2,469.2h.01M380.2,476.4h.01M380.2,483.6h.01M380.2,490.8h.01M380.2,498.0h.01M380.2,505.2h.01M380.2,512.4h.01M380.2,519.6h.01M386.4,307.2h.01M386.4,314.4h.01M386.4,321.6h.01M386.4,328.8h.01M386.4,336.0h.01M386.4,343.2h.01M386.4,350.4h.01M386.4,357.6h.01M386.4,364.8h.01M386.4,372.0h.01M386.4,379.2h.01M386.4,386.4h.01M386.4,393.6h.01M386.4,400.8h.01M386.4,408.0h.01M386.4,415.2h.01M386.4,422.4h.01M386.4,429.6h.01M386.4,436.8h.01M386.4,444.0h.01M386.4,451.2h.01M386.4,458.4h.01M386.4,465.6h.01M386.4,472.8h.01M386.4,480.0h.01M386.4,487.2h.01M386.4,494.4h.01M386.4,501.6h.01M386.4,508.8h.01M386.4,516.0h.01M392.6,310.8h.01M392.6,318.0h.01M392.6,325.2h.01M392.6,332.4h.01M392.6,339.6h.01M392.6,346.8h.01M392.6,354.0h.01M392.6,361.2h.01M392.6,368.4h.01M392.6,375.6h.01M392.6,382.8h.01M392.6,390.0h.01M392.6,397.2h.01M392.6,404.4h.01M392.6,411.6h.01M392.6,418.8h.01M392.6,426.0h.01M392.6,433.2h.01M392.6,440.4h.01M392.6,447.6h.01M392.6,454.8h.01M392.6,462.0h.01M392.6,469.2h.01M392.6,476.4h.01M392.6,483.6h.01M392.6,490.8h.01M392.6,498.0h.01M392.6,505.2h.01M392.6,512.4h.01M392.6,519.6h.01M398.8,314.4h.01M398.8,321.6h.01M398.8,328.8h.01M398.8,336.0h.01M398.8,343.2h.01M398.8,350.4h.01M398.8,357.6h.01M398.8,364.8h.01M398.8,372.0h.01M398.8,379.2h.01M398.8,386.4h.01M398.8,393.6h.01M398.8,400.8h.01M398.8,408.0h.01M398.8,415.2h.01M398.8,422.4h.01M398.8,429.6h.01M398.8,436.8h.01M398.8,444.0h.01M398.8,451.2h.01M398.8,458.4h.01M398.8,465.6h.01M398.8,472.8h.01M398.8,480.0h.01M398.8,487.2h.01M398.8,494.4h.01M398.8,501.6h.01M398.8,508.8h.01M398.8,516.0h.01M405.0,318.0h.01M405.0,325.2h.01M405.0,332.4h.01M405.0,339.6h.01M405.0,346.8h.01M405.0,354.0h.01M405.0,361.2h.01M405.0,368.4h.01M405.0,375.6h.01M405.0,382.8h.01M405.0,390.0h.01M405.0,397.2h.01M405.0,404.4h.01M405.0,411.6h.01M405.0,418.8h.01M405.0,426.0h.01M405.0,433.2h.01M405.0,440.4h.01M405.0,447.6h.01M405.0,454.8h.01M405.0,462.0h.01M405.0,469.2h.01M405.0,476.4h.01M405.0,483.6h.01M405.0,490.8h.01M405.0,498.0h.01M405.0,505.2h.01M405.0,512.4h.01M405.0,519.6h.01M411.2,314.4h.01M411.2,321.6h.01M411.2,328.8h.01M411.2,336.0h.01M411.2,343.2h.01M411.2,350.4h.01M411.2,357.6h.01M411.2,364.8h.01M411.2,372.0h.01M411.2,379.2h.01M411.2,386.4h.01M411.2,393.6h.01M411.2,400.8h.01M411.2,408.0h.01M411.2,415.2h.01M411.2,422.4h.01M411.2,429.6h.01M411.2,436.8h.01M411.2,444.0h.01M411.2,451.2h.01M411.2,458.4h.01M411.2,465.6h.01M411.2,472.8h.01M411.2,480.0h.01M411.2,487.2h.01M411.2,494.4h.01M411.2,501.6h.01M411.2,508.8h.01M411.2,516.0h.01M417.4,318.0h.01M417.4,325.2h.01M417.4,332.4h.01M417.4,339.6h.01M417.4,346.8h.01M417.4,354.0h.01M417.4,361.2h.01M417.4,368.4h.01M417.4,375.6h.01M417.4,382.8h.01M417.4,390.0h.01M417.4,397.2h.01M417.4,404.4h.01M417.4,411.6h.01M417.4,418.8h.01M417.4,426.0h.01M417.4,433.2h.01M417.4,440.4h.01M417.4,447.6h.01M417.4,454.8h.01M417.4,462.0h.01M417.4,469.2h.01M417.4,476.4h.01M417.4,483.6h.01M417.4,490.8h.01M417.4,498.0h.01M417.4,505.2h.01M417.4,512.4h.01M417.4,519.6h.01M423.6,321.6h.01M423.6,328.8h.01M423.6,336.0h.01M423.6,343.2h.01M423.6,350.4h.01M423.6,357.6h.01M423.6,364.8h.01M423.6,372.0h.01M423.6,379.2h.01M423.6,386.4h.01M423.6,393.6h.01M423.6,400.8h.01M423.6,408.0h.01M423.6,415.2h.01M423.6,422.4h.01M423.6,429.6h.01M423.6,436.8h.01M423.6,444.0h.01M423.6,451.2h.01M423.6,458.4h.01M423.6,465.6h.01M423.6,472.8h.01M423.6,480.0h.01M423.6,487.2h.01M423.6,494.4h.01M423.6,501.6h.01M423.6,508.8h.01M423.6,516.0h.01M429.8,325.2h.01M429.8,332.4h.01M429.8,339.6h.01M429.8,346.8h.01M429.8,354.0h.01M429.8,361.2h.01M429.8,368.4h.01M429.8,375.6h.01M429.8,382.8h.01M429.8,390.0h.01M429.8,397.2h.01M429.8,404.4h.01M429.8,411.6h.01M429.8,418.8h.01M429.8,426.0h.01M429.8,433.2h.01M429.8,440.4h.01M429.8,447.6h.01M429.8,454.8h.01M429.8,462.0h.01M429.8,469.2h.01M429.8,476.4h.01M429.8,483.6h.01M429.8,490.8h.01M429.8,498.0h.01M429.8,505.2h.01M436.0,321.6h.01M436.0,328.8h.01M436.0,336.0h.01M436.0,343.2h.01M436.0,350.4h.01M436.0,357.6h.01M436.0,364.8h.01M436.0,372.0h.01M436.0,379.2h.01M436.0,386.4h.01M436.0,393.6h.01M436.0,400.8h.01M436.0,408.0h.01M436.0,415.2h.01M436.0,422.4h.01M436.0,429.6h.01M436.0,436.8h.01M436.0,444.0h.01M436.0,451.2h.01M436.0,458.4h.01M436.0,465.6h.01M436.0,472.8h.01M436.0,480.0h.01M436.0,487.2h.01M436.0,494.4h.01M436.0,501.6h.01M442.2,325.2h.01M442.2,332.4h.01M442.2,339.6h.01M442.2,346.8h.01M442.2,354.0h.01M442.2,361.2h.01M442.2,368.4h.01M442.2,375.6h.01M442.2,382.8h.01M442.2,390.0h.01M442.2,397.2h.01M442.2,404.4h.01M442.2,411.6h.01M442.2,418.8h.01M442.2,426.0h.01M442.2,433.2h.01M442.2,440.4h.01M442.2,447.6h.01M442.2,454.8h.01M442.2,462.0h.01M442.2,469.2h.01M442.2,476.4h.01M442.2,483.6h.01M442.2,490.8h.01M448.4,328.8h.01M448.4,336.0h.01M448.4,343.2h.01M448.4,350.4h.01M448.4,357.6h.01M448.4,364.8h.01M448.4,372.0h.01M448.4,379.2h.01M448.4,386.4h.01M448.4,393.6h.01M448.4,400.8h.01M448.4,408.0h.01M448.4,415.2h.01M448.4,422.4h.01M448.4,429.6h.01M448.4,436.8h.01M448.4,444.0h.01M448.4,451.2h.01M448.4,458.4h.01M448.4,465.6h.01M448.4,472.8h.01M448.4,480.0h.01M448.4,487.2h.01M454.6,332.4h.01M454.6,339.6h.01M454.6,346.8h.01M454.6,354.0h.01M454.6,361.2h.01M454.6,368.4h.01M454.6,375.6h.01M454.6,382.8h.01M454.6,390.0h.01M454.6,397.2h.01M454.6,404.4h.01M454.6,411.6h.01M454.6,418.8h.01M454.6,426.0h.01M454.6,433.2h.01M454.6,440.4h.01M454.6,447.6h.01M454.6,454.8h.01M454.6,462.0h.01M454.6,469.2h.01M454.6,476.4h.01M454.6,483.6h.01M460.8,328.8h.01M460.8,336.0h.01M460.8,343.2h.01M460.8,350.4h.01M460.8,357.6h.01M460.8,364.8h.01M460.8,372.0h.01M460.8,379.2h.01M460.8,386.4h.01M460.8,393.6h.01M460.8,400.8h.01M460.8,408.0h.01M460.8,415.2h.01M460.8,422.4h.01M460.8,429.6h.01M460.8,436.8h.01M460.8,444.0h.01M460.8,451.2h.01M460.8,458.4h.01M460.8,465.6h.01M460.8,472.8h.01M467.0,332.4h.01M467.0,339.6h.01M467.0,346.8h.01M467.0,354.0h.01M467.0,361.2h.01M467.0,368.4h.01M467.0,375.6h.01M467.0,382.8h.01M467.0,390.0h.01M467.0,397.2h.01M467.0,404.4h.01M467.0,411.6h.01M467.0,418.8h.01M467.0,426.0h.01M467.0,433.2h.01M467.0,440.4h.01M467.0,447.6h.01M467.0,454.8h.01M467.0,462.0h.01M467.0,469.2h.01M473.2,235.2h.01M473.2,242.4h.01M473.2,249.6h.01M473.2,256.8h.01M473.2,264.0h.01M473.2,271.2h.01M473.2,278.4h.01M473.2,285.6h.01M473.2,292.8h.01M473.2,336.0h.01M473.2,343.2h.01M473.2,350.4h.01M473.2,357.6h.01M473.2,364.8h.01M473.2,372.0h.01M473.2,379.2h.01M473.2,386.4h.01M473.2,393.6h.01M473.2,400.8h.01M473.2,408.0h.01M473.2,415.2h.01M473.2,422.4h.01M473.2,429.6h.01M473.2,436.8h.01M473.2,444.0h.01M473.2,451.2h.01M473.2,458.4h.01M473.2,465.6h.01M479.4,231.6h.01M479.4,238.8h.01M479.4,246.0h.01M479.4,253.2h.01M479.4,260.4h.01M479.4,267.6h.01M479.4,274.8h.01M479.4,282.0h.01M479.4,289.2h.01M479.4,296.4h.01M479.4,303.6h.01M479.4,310.8h.01M479.4,318.0h.01M479.4,325.2h.01M479.4,354.0h.01M479.4,361.2h.01M479.4,368.4h.01M479.4,375.6h.01M479.4,382.8h.01M479.4,390.0h.01M479.4,397.2h.01M479.4,404.4h.01M479.4,411.6h.01M479.4,418.8h.01M479.4,426.0h.01M479.4,433.2h.01M479.4,440.4h.01M479.4,447.6h.01M479.4,454.8h.01M485.6,235.2h.01M485.6,242.4h.01M485.6,249.6h.01M485.6,256.8h.01M485.6,264.0h.01M485.6,271.2h.01M485.6,278.4h.01M485.6,285.6h.01M485.6,292.8h.01M485.6,300.0h.01M485.6,307.2h.01M485.6,314.4h.01M485.6,321.6h.01M485.6,328.8h.01M485.6,336.0h.01M485.6,343.2h.01M485.6,364.8h.01M485.6,372.0h.01M485.6,379.2h.01M485.6,386.4h.01M485.6,393.6h.01M485.6,400.8h.01M485.6,408.0h.01M485.6,415.2h.01M485.6,422.4h.01M485.6,429.6h.01M485.6,436.8h.01M485.6,444.0h.01M485.6,451.2h.01M491.8,231.6h.01M491.8,238.8h.01M491.8,246.0h.01M491.8,253.2h.01M491.8,260.4h.01M491.8,267.6h.01M491.8,274.8h.01M491.8,282.0h.01M491.8,289.2h.01M491.8,296.4h.01M491.8,303.6h.01M491.8,310.8h.01M491.8,318.0h.01M491.8,325.2h.01M491.8,332.4h.01M491.8,339.6h.01M491.8,346.8h.01M491.8,354.0h.01M491.8,361.2h.01M491.8,368.4h.01M491.8,375.6h.01M491.8,382.8h.01M491.8,390.0h.01M491.8,397.2h.01M491.8,404.4h.01M491.8,411.6h.01M491.8,418.8h.01M491.8,426.0h.01M491.8,433.2h.01M491.8,440.4h.01M491.8,447.6h.01M498.0,235.2h.01M498.0,242.4h.01M498.0,249.6h.01M498.0,256.8h.01M498.0,264.0h.01M498.0,271.2h.01M498.0,278.4h.01M498.0,285.6h.01M498.0,292.8h.01M498.0,300.0h.01M498.0,307.2h.01M498.0,314.4h.01M498.0,321.6h.01M498.0,328.8h.01M498.0,336.0h.01M498.0,343.2h.01M498.0,350.4h.01M498.0,357.6h.01M498.0,364.8h.01M498.0,372.0h.01M498.0,379.2h.01M498.0,386.4h.01M498.0,393.6h.01M498.0,400.8h.01M498.0,408.0h.01M498.0,415.2h.01M498.0,422.4h.01M498.0,429.6h.01M498.0,436.8h.01M504.2,231.6h.01M504.2,238.8h.01M504.2,246.0h.01M504.2,253.2h.01M504.2,260.4h.01M504.2,267.6h.01M504.2,274.8h.01M504.2,282.0h.01M504.2,289.2h.01M504.2,296.4h.01M504.2,303.6h.01M504.2,310.8h.01M504.2,318.0h.01M504.2,325.2h.01M504.2,332.4h.01M504.2,339.6h.01M504.2,346.8h.01M504.2,354.0h.01M504.2,361.2h.01M504.2,368.4h.01M504.2,375.6h.01M504.2,382.8h.01M504.2,390.0h.01M504.2,397.2h.01M504.2,404.4h.01M504.2,411.6h.01M504.2,418.8h.01M504.2,426.0h.01M504.2,433.2h.01M510.4,228.0h.01M510.4,235.2h.01M510.4,242.4h.01M510.4,249.6h.01M510.4,256.8h.01M510.4,264.0h.01M510.4,271.2h.01M510.4,278.4h.01M510.4,285.6h.01M510.4,292.8h.01M510.4,300.0h.01M510.4,307.2h.01M510.4,314.4h.01M510.4,321.6h.01M510.4,328.8h.01M510.4,336.0h.01M510.4,343.2h.01M510.4,350.4h.01M510.4,357.6h.01M510.4,364.8h.01M510.4,372.0h.01M510.4,379.2h.01M510.4,386.4h.01M510.4,393.6h.01M510.4,400.8h.01M510.4,408.0h.01M510.4,415.2h.01M510.4,422.4h.01M510.4,429.6h.01M516.6,231.6h.01M516.6,238.8h.01M516.6,246.0h.01M516.6,253.2h.01M516.6,260.4h.01M516.6,267.6h.01M516.6,274.8h.01M516.6,282.0h.01M516.6,289.2h.01M516.6,296.4h.01M516.6,303.6h.01M516.6,310.8h.01M516.6,318.0h.01M516.6,325.2h.01M516.6,332.4h.01M516.6,339.6h.01M516.6,346.8h.01M516.6,354.0h.01M516.6,361.2h.01M516.6,368.4h.01M516.6,375.6h.01M516.6,382.8h.01M516.6,390.0h.01M516.6,397.2h.01M516.6,404.4h.01M516.6,411.6h.01M516.6,418.8h.01M516.6,426.0h.01M522.8,228.0h.01M522.8,235.2h.01M522.8,242.4h.01M522.8,249.6h.01M522.8,256.8h.01M522.8,264.0h.01M522.8,271.2h.01M522.8,278.4h.01M522.8,285.6h.01M522.8,292.8h.01M522.8,300.0h.01M522.8,307.2h.01M522.8,314.4h.01M522.8,321.6h.01M522.8,328.8h.01M522.8,336.0h.01M522.8,343.2h.01M522.8,350.4h.01M522.8,357.6h.01M522.8,364.8h.01M522.8,372.0h.01M522.8,379.2h.01M522.8,386.4h.01M522.8,393.6h.01M522.8,400.8h.01M522.8,408.0h.01M522.8,415.2h.01M522.8,422.4h.01M522.8,429.6h.01M522.8,436.8h.01M529.0,224.4h.01M529.0,231.6h.01M529.0,238.8h.01M529.0,246.0h.01M529.0,253.2h.01M529.0,260.4h.01M529.0,267.6h.01M529.0,274.8h.01M529.0,282.0h.01M529.0,289.2h.01M529.0,296.4h.01M529.0,303.6h.01M529.0,310.8h.01M529.0,318.0h.01M529.0,325.2h.01M529.0,332.4h.01M529.0,339.6h.01M529.0,346.8h.01M529.0,354.0h.01M529.0,361.2h.01M529.0,368.4h.01M529.0,375.6h.01M529.0,382.8h.01M529.0,390.0h.01M529.0,397.2h.01M529.0,404.4h.01M529.0,411.6h.01M529.0,418.8h.01M529.0,426.0h.01M529.0,433.2h.01M535.2,228.0h.01M535.2,235.2h.01M535.2,242.4h.01M535.2,249.6h.01M535.2,256.8h.01M535.2,264.0h.01M535.2,271.2h.01M535.2,278.4h.01M535.2,285.6h.01M535.2,292.8h.01M535.2,300.0h.01M535.2,307.2h.01M535.2,314.4h.01M535.2,321.6h.01M535.2,328.8h.01M535.2,336.0h.01M535.2,343.2h.01M535.2,350.4h.01M535.2,357.6h.01M535.2,364.8h.01M535.2,372.0h.01M535.2,379.2h.01M535.2,386.4h.01M535.2,393.6h.01M535.2,400.8h.01M535.2,408.0h.01M535.2,415.2h.01M535.2,422.4h.01M535.2,429.6h.01M541.4,224.4h.01M541.4,231.6h.01M541.4,238.8h.01M541.4,246.0h.01M541.4,253.2h.01M541.4,260.4h.01M541.4,267.6h.01M541.4,274.8h.01M541.4,282.0h.01M541.4,289.2h.01M541.4,296.4h.01M541.4,303.6h.01M541.4,310.8h.01M541.4,318.0h.01M541.4,325.2h.01M541.4,332.4h.01M541.4,339.6h.01M541.4,346.8h.01M541.4,354.0h.01M541.4,361.2h.01M541.4,368.4h.01M541.4,375.6h.01M541.4,382.8h.01M541.4,390.0h.01M541.4,397.2h.01M541.4,404.4h.01M541.4,411.6h.01M541.4,418.8h.01M541.4,426.0h.01M547.6,228.0h.01M547.6,235.2h.01M547.6,242.4h.01M547.6,249.6h.01M547.6,256.8h.01M547.6,264.0h.01M547.6,271.2h.01M547.6,278.4h.01M547.6,285.6h.01M547.6,292.8h.01M547.6,300.0h.01M547.6,307.2h.01M547.6,314.4h.01M547.6,321.6h.01M547.6,328.8h.01M547.6,336.0h.01M547.6,343.2h.01M547.6,350.4h.01M547.6,357.6h.01M547.6,364.8h.01M547.6,372.0h.01M547.6,379.2h.01M547.6,386.4h.01M547.6,393.6h.01M547.6,400.8h.01M547.6,408.0h.01M547.6,415.2h.01M547.6,422.4h.01M553.8,231.6h.01M553.8,238.8h.01M553.8,246.0h.01M553.8,253.2h.01M553.8,260.4h.01M553.8,267.6h.01M553.8,274.8h.01M553.8,282.0h.01M553.8,289.2h.01M553.8,296.4h.01M553.8,303.6h.01M553.8,310.8h.01M553.8,318.0h.01M553.8,325.2h.01M553.8,332.4h.01M553.8,339.6h.01M553.8,346.8h.01M553.8,354.0h.01M553.8,361.2h.01M553.8,368.4h.01M553.8,375.6h.01M553.8,382.8h.01M553.8,390.0h.01M553.8,397.2h.01M553.8,404.4h.01M553.8,411.6h.01M553.8,418.8h.01M553.8,426.0h.01M560.0,228.0h.01M560.0,235.2h.01M560.0,242.4h.01M560.0,249.6h.01M560.0,256.8h.01M560.0,264.0h.01M560.0,271.2h.01M560.0,278.4h.01M560.0,285.6h.01M560.0,292.8h.01M560.0,300.0h.01M560.0,307.2h.01M560.0,314.4h.01M560.0,321.6h.01M560.0,328.8h.01M560.0,336.0h.01M560.0,343.2h.01M560.0,350.4h.01M560.0,357.6h.01M560.0,364.8h.01M560.0,372.0h.01M560.0,379.2h.01M560.0,386.4h.01M560.0,393.6h.01M560.0,400.8h.01M560.0,408.0h.01M560.0,415.2h.01M560.0,422.4h.01M566.2,231.6h.01M566.2,238.8h.01M566.2,246.0h.01M566.2,253.2h.01M566.2,260.4h.01M566.2,267.6h.01M566.2,274.8h.01M566.2,282.0h.01M566.2,289.2h.01M566.2,296.4h.01M566.2,303.6h.01M566.2,310.8h.01M566.2,318.0h.01M566.2,325.2h.01M566.2,332.4h.01M566.2,339.6h.01M566.2,346.8h.01M566.2,354.0h.01M566.2,361.2h.01M566.2,368.4h.01M566.2,375.6h.01M566.2,382.8h.01M566.2,390.0h.01M566.2,397.2h.01M566.2,404.4h.01M566.2,411.6h.01M566.2,418.8h.01M572.4,228.0h.01M572.4,235.2h.01M572.4,242.4h.01M572.4,249.6h.01M572.4,256.8h.01M572.4,264.0h.01M572.4,271.2h.01M572.4,278.4h.01M572.4,285.6h.01M572.4,292.8h.01M572.4,300.0h.01M572.4,307.2h.01M572.4,314.4h.01M572.4,321.6h.01M572.4,328.8h.01M572.4,336.0h.01M572.4,343.2h.01M572.4,350.4h.01M572.4,357.6h.01M572.4,364.8h.01M572.4,372.0h.01M572.4,379.2h.01M572.4,386.4h.01M572.4,393.6h.01M572.4,400.8h.01M572.4,408.0h.01M572.4,415.2h.01M578.6,231.6h.01M578.6,238.8h.01M578.6,246.0h.01M578.6,253.2h.01M578.6,260.4h.01M578.6,267.6h.01M578.6,274.8h.01M578.6,282.0h.01M578.6,289.2h.01M578.6,296.4h.01M578.6,303.6h.01M578.6,310.8h.01M578.6,318.0h.01M578.6,325.2h.01M578.6,332.4h.01M578.6,339.6h.01M578.6,346.8h.01M578.6,354.0h.01M578.6,361.2h.01M578.6,368.4h.01M578.6,375.6h.01M578.6,382.8h.01M578.6,390.0h.01M578.6,397.2h.01M578.6,404.4h.01M578.6,411.6h.01M584.8,235.2h.01M584.8,242.4h.01M584.8,249.6h.01M584.8,256.8h.01M584.8,264.0h.01M584.8,271.2h.01M584.8,278.4h.01M584.8,285.6h.01M584.8,292.8h.01M584.8,300.0h.01M584.8,307.2h.01M584.8,314.4h.01M584.8,321.6h.01M584.8,328.8h.01M584.8,336.0h.01M584.8,343.2h.01M584.8,350.4h.01M584.8,357.6h.01M584.8,364.8h.01M584.8,372.0h.01M584.8,379.2h.01M584.8,386.4h.01M584.8,393.6h.01M584.8,400.8h.01M584.8,408.0h.01M584.8,480.0h.01M584.8,487.2h.01M584.8,494.4h.01M591.0,231.6h.01M591.0,238.8h.01M591.0,246.0h.01M591.0,253.2h.01M591.0,260.4h.01M591.0,267.6h.01M591.0,274.8h.01M591.0,282.0h.01M591.0,289.2h.01M591.0,296.4h.01M591.0,303.6h.01M591.0,310.8h.01M591.0,318.0h.01M591.0,325.2h.01M591.0,332.4h.01M591.0,339.6h.01M591.0,346.8h.01M591.0,354.0h.01M591.0,361.2h.01M591.0,368.4h.01M591.0,375.6h.01M591.0,382.8h.01M591.0,390.0h.01M591.0,397.2h.01M591.0,483.6h.01M591.0,490.8h.01M591.0,498.0h.01M597.2,235.2h.01M597.2,242.4h.01M597.2,249.6h.01M597.2,256.8h.01M597.2,264.0h.01M597.2,271.2h.01M597.2,278.4h.01M597.2,285.6h.01M597.2,292.8h.01M597.2,300.0h.01M597.2,307.2h.01M597.2,314.4h.01M597.2,321.6h.01M597.2,328.8h.01M597.2,336.0h.01M597.2,343.2h.01M597.2,350.4h.01M597.2,357.6h.01M597.2,364.8h.01M597.2,372.0h.01M597.2,379.2h.01M597.2,386.4h.01M597.2,393.6h.01M597.2,480.0h.01M597.2,487.2h.01M597.2,494.4h.01M603.4,238.8h.01M603.4,246.0h.01M603.4,253.2h.01M603.4,260.4h.01M603.4,267.6h.01M603.4,274.8h.01M603.4,282.0h.01M603.4,289.2h.01M603.4,296.4h.01M603.4,303.6h.01M603.4,310.8h.01M603.4,318.0h.01M603.4,325.2h.01M603.4,332.4h.01M603.4,339.6h.01M603.4,346.8h.01M603.4,354.0h.01M603.4,361.2h.01M603.4,368.4h.01M603.4,375.6h.01M603.4,382.8h.01M609.6,235.2h.01M609.6,242.4h.01M609.6,249.6h.01M609.6,256.8h.01M609.6,264.0h.01M609.6,271.2h.01M609.6,278.4h.01M609.6,285.6h.01M609.6,292.8h.01M609.6,300.0h.01M609.6,307.2h.01M609.6,314.4h.01M609.6,321.6h.01M609.6,328.8h.01M609.6,336.0h.01M609.6,343.2h.01M609.6,350.4h.01M609.6,357.6h.01M609.6,364.8h.01M609.6,372.0h.01M609.6,379.2h.01M615.8,246.0h.01M615.8,253.2h.01M615.8,260.4h.01M615.8,267.6h.01M615.8,274.8h.01M615.8,282.0h.01M615.8,289.2h.01M615.8,296.4h.01M615.8,303.6h.01M615.8,310.8h.01M615.8,318.0h.01M615.8,325.2h.01M615.8,332.4h.01M615.8,339.6h.01M615.8,346.8h.01M615.8,354.0h.01M615.8,361.2h.01M622.0,249.6h.01M622.0,256.8h.01M622.0,264.0h.01M622.0,271.2h.01M622.0,278.4h.01M622.0,285.6h.01M622.0,292.8h.01M622.0,300.0h.01M622.0,307.2h.01M622.0,314.4h.01M622.0,321.6h.01M622.0,328.8h.01M622.0,336.0h.01M622.0,343.2h.01M628.2,260.4h.01M628.2,267.6h.01M628.2,274.8h.01M628.2,282.0h.01M628.2,289.2h.01M628.2,296.4h.01M628.2,303.6h.01M628.2,310.8h.01M628.2,318.0h.01M628.2,325.2h.01M628.2,332.4h.01M628.2,339.6h.01M634.4,271.2h.01M634.4,278.4h.01M634.4,285.6h.01M634.4,292.8h.01M634.4,300.0h.01M634.4,307.2h.01M634.4,314.4h.01M634.4,321.6h.01M634.4,328.8h.01M634.4,336.0h.01M640.6,267.6h.01M640.6,274.8h.01M640.6,282.0h.01M640.6,289.2h.01M640.6,296.4h.01M640.6,303.6h.01M640.6,310.8h.01M640.6,318.0h.01M640.6,325.2h.01M640.6,332.4h.01M646.8,271.2h.01M646.8,278.4h.01M646.8,285.6h.01M646.8,292.8h.01M646.8,300.0h.01M646.8,307.2h.01M646.8,314.4h.01M646.8,321.6h.01M646.8,328.8h.01M653.0,267.6h.01M653.0,274.8h.01M653.0,282.0h.01M653.0,289.2h.01M653.0,296.4h.01M653.0,303.6h.01M653.0,310.8h.01M653.0,318.0h.01M659.2,264.0h.01M659.2,271.2h.01M659.2,278.4h.01M659.2,285.6h.01M659.2,292.8h.01M659.2,300.0h.01M659.2,307.2h.01M659.2,314.4h.01M665.4,267.6h.01M665.4,274.8h.01M665.4,282.0h.01M665.4,289.2h.01M665.4,296.4h.01M665.4,303.6h.01M671.6,278.4h.01M671.6,285.6h.01M671.6,292.8h.01M671.6,300.0h.01M677.8,289.2h.01M677.8,296.4h.01" stroke="#e6eff7" stroke-width="4.0" stroke-linecap="round" fill="none"/><path d="M33.0,274.8h.01M33.0,282.0h.01M33.0,289.2h.01M33.0,296.4h.01M33.0,303.6h.01M33.0,310.8h.01M39.2,271.2h.01M39.2,278.4h.01M39.2,285.6h.01M39.2,292.8h.01M39.2,300.0h.01M39.2,307.2h.01M39.2,314.4h.01M39.2,321.6h.01M45.4,267.6h.01M45.4,274.8h.01M45.4,282.0h.01M45.4,289.2h.01M45.4,296.4h.01M45.4,303.6h.01M45.4,310.8h.01M45.4,318.0h.01M45.4,325.2h.01M45.4,332.4h.01M51.6,271.2h.01M51.6,278.4h.01M51.6,285.6h.01M51.6,292.8h.01M51.6,300.0h.01M51.6,307.2h.01M51.6,314.4h.01M51.6,321.6h.01M51.6,328.8h.01M51.6,336.0h.01M57.8,267.6h.01M57.8,274.8h.01M57.8,282.0h.01M57.8,289.2h.01M57.8,296.4h.01M57.8,303.6h.01M57.8,310.8h.01M57.8,318.0h.01M57.8,325.2h.01M57.8,332.4h.01M57.8,339.6h.01M64.0,264.0h.01M64.0,271.2h.01M64.0,278.4h.01M64.0,285.6h.01M64.0,292.8h.01M64.0,300.0h.01M64.0,307.2h.01M64.0,314.4h.01M64.0,321.6h.01M64.0,328.8h.01M64.0,336.0h.01M64.0,343.2h.01M70.2,267.6h.01M70.2,274.8h.01M70.2,282.0h.01M70.2,289.2h.01M70.2,296.4h.01M70.2,303.6h.01M70.2,310.8h.01M70.2,318.0h.01M70.2,325.2h.01M70.2,332.4h.01M70.2,339.6h.01M76.4,271.2h.01M76.4,278.4h.01M76.4,285.6h.01M76.4,292.8h.01M76.4,300.0h.01M76.4,307.2h.01M76.4,314.4h.01M76.4,321.6h.01M76.4,328.8h.01M76.4,336.0h.01M76.4,343.2h.01M82.6,267.6h.01M82.6,274.8h.01M82.6,282.0h.01M82.6,289.2h.01M82.6,296.4h.01M82.6,303.6h.01M82.6,310.8h.01M82.6,318.0h.01M82.6,325.2h.01M82.6,332.4h.01M82.6,339.6h.01M82.6,346.8h.01M88.8,271.2h.01M88.8,278.4h.01M88.8,285.6h.01M88.8,292.8h.01M88.8,300.0h.01M88.8,307.2h.01M88.8,314.4h.01M88.8,321.6h.01M88.8,328.8h.01M88.8,336.0h.01M88.8,343.2h.01M95.0,267.6h.01M95.0,274.8h.01M95.0,282.0h.01M95.0,289.2h.01M95.0,296.4h.01M95.0,303.6h.01M95.0,310.8h.01M95.0,318.0h.01M95.0,325.2h.01M95.0,332.4h.01M95.0,339.6h.01M95.0,346.8h.01M95.0,354.0h.01M101.2,228.0h.01M101.2,271.2h.01M101.2,278.4h.01M101.2,285.6h.01M101.2,292.8h.01M101.2,300.0h.01M101.2,307.2h.01M101.2,314.4h.01M101.2,321.6h.01M101.2,328.8h.01M101.2,336.0h.01M101.2,343.2h.01M101.2,350.4h.01M101.2,357.6h.01M107.4,224.4h.01M107.4,231.6h.01M107.4,238.8h.01M107.4,246.0h.01M107.4,253.2h.01M107.4,267.6h.01M107.4,274.8h.01M107.4,282.0h.01M107.4,289.2h.01M107.4,296.4h.01M107.4,303.6h.01M107.4,310.8h.01M107.4,318.0h.01M107.4,325.2h.01M107.4,332.4h.01M107.4,339.6h.01M107.4,346.8h.01M107.4,354.0h.01M107.4,361.2h.01M113.6,228.0h.01M113.6,235.2h.01M113.6,242.4h.01M113.6,249.6h.01M113.6,256.8h.01M113.6,271.2h.01M113.6,278.4h.01M113.6,285.6h.01M113.6,292.8h.01M113.6,300.0h.01M113.6,307.2h.01M113.6,314.4h.01M113.6,321.6h.01M113.6,328.8h.01M113.6,336.0h.01M113.6,343.2h.01M113.6,350.4h.01M113.6,357.6h.01M113.6,364.8h.01M113.6,372.0h.01M119.8,224.4h.01M119.8,231.6h.01M119.8,238.8h.01M119.8,246.0h.01M119.8,253.2h.01M119.8,267.6h.01M119.8,274.8h.01M119.8,282.0h.01M119.8,289.2h.01M119.8,296.4h.01M119.8,303.6h.01M119.8,310.8h.01M119.8,318.0h.01M119.8,325.2h.01M119.8,332.4h.01M119.8,339.6h.01M119.8,346.8h.01M119.8,354.0h.01M119.8,361.2h.01M119.8,368.4h.01M119.8,375.6h.01M126.0,220.8h.01M126.0,228.0h.01M126.0,235.2h.01M126.0,242.4h.01M126.0,249.6h.01M126.0,256.8h.01M126.0,271.2h.01M126.0,278.4h.01M126.0,285.6h.01M126.0,292.8h.01M126.0,300.0h.01M126.0,307.2h.01M126.0,314.4h.01M126.0,321.6h.01M126.0,328.8h.01M126.0,336.0h.01M126.0,343.2h.01M126.0,350.4h.01M126.0,357.6h.01M126.0,364.8h.01M126.0,372.0h.01M126.0,379.2h.01M132.2,217.2h.01M132.2,224.4h.01M132.2,231.6h.01M132.2,238.8h.01M132.2,246.0h.01M132.2,253.2h.01M132.2,267.6h.01M132.2,274.8h.01M132.2,282.0h.01M132.2,289.2h.01M132.2,296.4h.01M132.2,303.6h.01M132.2,310.8h.01M132.2,318.0h.01M132.2,325.2h.01M132.2,332.4h.01M132.2,339.6h.01M132.2,346.8h.01M132.2,354.0h.01M132.2,361.2h.01M132.2,368.4h.01M132.2,375.6h.01M132.2,382.8h.01M138.4,220.8h.01M138.4,228.0h.01M138.4,235.2h.01M138.4,242.4h.01M138.4,249.6h.01M138.4,264.0h.01M138.4,271.2h.01M138.4,278.4h.01M138.4,285.6h.01M138.4,292.8h.01M138.4,300.0h.01M138.4,307.2h.01M138.4,314.4h.01M138.4,321.6h.01M138.4,328.8h.01M138.4,336.0h.01M138.4,343.2h.01M138.4,350.4h.01M138.4,357.6h.01M138.4,364.8h.01M138.4,372.0h.01M138.4,379.2h.01M144.6,188.4h.01M144.6,195.6h.01M144.6,202.8h.01M144.6,210.0h.01M144.6,231.6h.01M144.6,238.8h.01M144.6,267.6h.01M144.6,274.8h.01M144.6,282.0h.01M144.6,289.2h.01M144.6,296.4h.01M144.6,303.6h.01M144.6,310.8h.01M144.6,318.0h.01M144.6,325.2h.01M144.6,332.4h.01M144.6,339.6h.01M144.6,346.8h.01M144.6,354.0h.01M144.6,361.2h.01M144.6,368.4h.01M144.6,375.6h.01M144.6,382.8h.01M150.8,170.4h.01M150.8,177.6h.01M150.8,184.8h.01M150.8,192.0h.01M150.8,199.2h.01M150.8,206.4h.01M150.8,213.6h.01M150.8,220.8h.01M150.8,228.0h.01M150.8,264.0h.01M150.8,271.2h.01M150.8,278.4h.01M150.8,285.6h.01M150.8,292.8h.01M150.8,300.0h.01M150.8,307.2h.01M150.8,314.4h.01M150.8,321.6h.01M150.8,328.8h.01M150.8,336.0h.01M150.8,343.2h.01M150.8,350.4h.01M150.8,357.6h.01M150.8,364.8h.01M150.8,372.0h.01M150.8,379.2h.01M150.8,386.4h.01M157.0,166.8h.01M157.0,174.0h.01M157.0,181.2h.01M157.0,188.4h.01M157.0,195.6h.01M157.0,202.8h.01M157.0,210.0h.01M157.0,217.2h.01M157.0,224.4h.01M157.0,231.6h.01M157.0,267.6h.01M157.0,274.8h.01M157.0,282.0h.01M157.0,289.2h.01M157.0,296.4h.01M157.0,303.6h.01M157.0,310.8h.01M157.0,318.0h.01M157.0,325.2h.01M157.0,332.4h.01M157.0,339.6h.01M157.0,346.8h.01M157.0,354.0h.01M157.0,361.2h.01M157.0,368.4h.01M157.0,375.6h.01M157.0,382.8h.01M157.0,390.0h.01M163.2,163.2h.01M163.2,170.4h.01M163.2,177.6h.01M163.2,184.8h.01M163.2,192.0h.01M163.2,199.2h.01M163.2,206.4h.01M163.2,213.6h.01M163.2,220.8h.01M163.2,228.0h.01M163.2,235.2h.01M163.2,242.4h.01M163.2,271.2h.01M163.2,278.4h.01M163.2,285.6h.01M163.2,292.8h.01M163.2,300.0h.01M163.2,307.2h.01M163.2,314.4h.01M163.2,321.6h.01M163.2,328.8h.01M163.2,336.0h.01M163.2,343.2h.01M163.2,350.4h.01M163.2,357.6h.01M163.2,364.8h.01M163.2,372.0h.01M163.2,379.2h.01M163.2,386.4h.01M169.4,159.6h.01M169.4,166.8h.01M169.4,174.0h.01M169.4,181.2h.01M169.4,188.4h.01M169.4,195.6h.01M169.4,202.8h.01M169.4,210.0h.01M169.4,217.2h.01M169.4,224.4h.01M169.4,231.6h.01M169.4,238.8h.01M169.4,246.0h.01M169.4,267.6h.01M169.4,274.8h.01M169.4,282.0h.01M169.4,289.2h.01M169.4,296.4h.01M169.4,303.6h.01M169.4,310.8h.01M169.4,318.0h.01M169.4,325.2h.01M169.4,332.4h.01M169.4,339.6h.01M169.4,346.8h.01M169.4,354.0h.01M169.4,361.2h.01M169.4,368.4h.01M169.4,375.6h.01M169.4,382.8h.01M175.6,156.0h.01M175.6,163.2h.01M175.6,170.4h.01M175.6,177.6h.01M175.6,184.8h.01M175.6,192.0h.01M175.6,199.2h.01M175.6,206.4h.01M175.6,213.6h.01M175.6,220.8h.01M175.6,228.0h.01M175.6,235.2h.01M175.6,242.4h.01M175.6,249.6h.01M175.6,256.8h.01M175.6,271.2h.01M175.6,278.4h.01M175.6,285.6h.01M175.6,292.8h.01M175.6,300.0h.01M175.6,307.2h.01M175.6,314.4h.01M175.6,321.6h.01M175.6,328.8h.01M175.6,336.0h.01M175.6,343.2h.01M175.6,350.4h.01M175.6,357.6h.01M175.6,364.8h.01M175.6,372.0h.01M175.6,379.2h.01M181.8,152.4h.01M181.8,159.6h.01M181.8,166.8h.01M181.8,174.0h.01M181.8,181.2h.01M181.8,188.4h.01M181.8,195.6h.01M181.8,202.8h.01M181.8,210.0h.01M181.8,217.2h.01M181.8,224.4h.01M181.8,231.6h.01M181.8,238.8h.01M181.8,246.0h.01M181.8,253.2h.01M181.8,260.4h.01M181.8,267.6h.01M181.8,274.8h.01M181.8,282.0h.01M181.8,289.2h.01M181.8,296.4h.01M181.8,303.6h.01M181.8,310.8h.01M181.8,318.0h.01M181.8,325.2h.01M181.8,332.4h.01M181.8,339.6h.01M181.8,346.8h.01M181.8,354.0h.01M181.8,361.2h.01M181.8,368.4h.01M181.8,375.6h.01M188.0,148.8h.01M188.0,156.0h.01M188.0,163.2h.01M188.0,170.4h.01M188.0,177.6h.01M188.0,184.8h.01M188.0,192.0h.01M188.0,199.2h.01M188.0,206.4h.01M188.0,213.6h.01M188.0,220.8h.01M188.0,228.0h.01M188.0,235.2h.01M188.0,242.4h.01M188.0,249.6h.01M188.0,256.8h.01M188.0,271.2h.01M188.0,278.4h.01M188.0,285.6h.01M188.0,292.8h.01M188.0,300.0h.01M188.0,307.2h.01M188.0,314.4h.01M188.0,321.6h.01M188.0,328.8h.01M188.0,336.0h.01M188.0,343.2h.01M188.0,350.4h.01M188.0,357.6h.01M188.0,364.8h.01M188.0,372.0h.01M194.2,152.4h.01M194.2,159.6h.01M194.2,166.8h.01M194.2,174.0h.01M194.2,181.2h.01M194.2,188.4h.01M194.2,195.6h.01M194.2,202.8h.01M194.2,210.0h.01M194.2,217.2h.01M194.2,224.4h.01M194.2,231.6h.01M194.2,238.8h.01M194.2,246.0h.01M194.2,253.2h.01M194.2,260.4h.01M194.2,274.8h.01M194.2,282.0h.01M194.2,289.2h.01M194.2,296.4h.01M194.2,303.6h.01M194.2,310.8h.01M194.2,318.0h.01M194.2,325.2h.01M194.2,332.4h.01M194.2,339.6h.01M194.2,346.8h.01M194.2,354.0h.01M200.4,148.8h.01M200.4,156.0h.01M200.4,163.2h.01M200.4,170.4h.01M200.4,177.6h.01M200.4,184.8h.01M200.4,192.0h.01M200.4,199.2h.01M200.4,206.4h.01M200.4,213.6h.01M200.4,220.8h.01M200.4,228.0h.01M200.4,235.2h.01M200.4,242.4h.01M200.4,249.6h.01M200.4,256.8h.01M200.4,264.0h.01M200.4,278.4h.01M200.4,285.6h.01M200.4,292.8h.01M200.4,300.0h.01M200.4,307.2h.01M200.4,314.4h.01M200.4,321.6h.01M200.4,328.8h.01M200.4,336.0h.01M200.4,393.6h.01M200.4,400.8h.01M200.4,408.0h.01M200.4,415.2h.01M200.4,422.4h.01M200.4,429.6h.01M200.4,436.8h.01M200.4,444.0h.01M206.6,145.2h.01M206.6,152.4h.01M206.6,159.6h.01M206.6,166.8h.01M206.6,174.0h.01M206.6,181.2h.01M206.6,188.4h.01M206.6,195.6h.01M206.6,202.8h.01M206.6,210.0h.01M206.6,217.2h.01M206.6,224.4h.01M206.6,231.6h.01M206.6,238.8h.01M206.6,246.0h.01M206.6,253.2h.01M206.6,260.4h.01M206.6,303.6h.01M206.6,310.8h.01M206.6,318.0h.01M206.6,325.2h.01M206.6,332.4h.01M206.6,339.6h.01M206.6,346.8h.01M206.6,354.0h.01M206.6,361.2h.01M206.6,368.4h.01M206.6,375.6h.01M206.6,397.2h.01M206.6,404.4h.01M206.6,411.6h.01M206.6,418.8h.01M206.6,426.0h.01M206.6,433.2h.01M206.6,440.4h.01M206.6,447.6h.01M206.6,454.8h.01M212.8,148.8h.01M212.8,156.0h.01M212.8,163.2h.01M212.8,170.4h.01M212.8,177.6h.01M212.8,184.8h.01M212.8,192.0h.01M212.8,199.2h.01M212.8,206.4h.01M212.8,213.6h.01M212.8,220.8h.01M212.8,228.0h.01M212.8,235.2h.01M212.8,242.4h.01M212.8,249.6h.01M212.8,256.8h.01M212.8,264.0h.01M212.8,300.0h.01M212.8,307.2h.01M212.8,314.4h.01M212.8,321.6h.01M212.8,328.8h.01M212.8,336.0h.01M212.8,343.2h.01M212.8,350.4h.01M212.8,357.6h.01M212.8,364.8h.01M212.8,372.0h.01M212.8,379.2h.01M212.8,386.4h.01M212.8,400.8h.01M212.8,408.0h.01M212.8,415.2h.01M212.8,422.4h.01M212.8,429.6h.01M212.8,436.8h.01M212.8,444.0h.01M212.8,451.2h.01M212.8,458.4h.01M219.0,145.2h.01M219.0,152.4h.01M219.0,159.6h.01M219.0,166.8h.01M219.0,174.0h.01M219.0,181.2h.01M219.0,188.4h.01M219.0,195.6h.01M219.0,202.8h.01M219.0,210.0h.01M219.0,217.2h.01M219.0,224.4h.01M219.0,231.6h.01M219.0,238.8h.01M219.0,246.0h.01M219.0,253.2h.01M219.0,260.4h.01M219.0,267.6h.01M219.0,303.6h.01M219.0,310.8h.01M219.0,318.0h.01M219.0,325.2h.01M219.0,332.4h.01M219.0,339.6h.01M219.0,346.8h.01M219.0,354.0h.01M219.0,361.2h.01M219.0,368.4h.01M219.0,375.6h.01M219.0,382.8h.01M219.0,390.0h.01M219.0,397.2h.01M219.0,404.4h.01M219.0,411.6h.01M219.0,418.8h.01M219.0,426.0h.01M219.0,433.2h.01M219.0,440.4h.01M219.0,447.6h.01M219.0,454.8h.01M219.0,462.0h.01M219.0,469.2h.01M225.2,141.6h.01M225.2,148.8h.01M225.2,156.0h.01M225.2,163.2h.01M225.2,170.4h.01M225.2,177.6h.01M225.2,184.8h.01M225.2,192.0h.01M225.2,199.2h.01M225.2,206.4h.01M225.2,213.6h.01M225.2,220.8h.01M225.2,228.0h.01M225.2,235.2h.01M225.2,242.4h.01M225.2,249.6h.01M225.2,256.8h.01M225.2,264.0h.01M225.2,300.0h.01M225.2,307.2h.01M225.2,314.4h.01M225.2,321.6h.01M225.2,328.8h.01M225.2,336.0h.01M225.2,343.2h.01M225.2,350.4h.01M225.2,357.6h.01M225.2,364.8h.01M225.2,372.0h.01M225.2,379.2h.01M225.2,386.4h.01M225.2,393.6h.01M225.2,400.8h.01M225.2,408.0h.01M225.2,415.2h.01M225.2,422.4h.01M225.2,429.6h.01M225.2,436.8h.01M225.2,444.0h.01M225.2,451.2h.01M225.2,458.4h.01M225.2,465.6h.01M225.2,472.8h.01M231.4,145.2h.01M231.4,152.4h.01M231.4,159.6h.01M231.4,166.8h.01M231.4,174.0h.01M231.4,181.2h.01M231.4,188.4h.01M231.4,195.6h.01M231.4,202.8h.01M231.4,210.0h.01M231.4,217.2h.01M231.4,224.4h.01M231.4,231.6h.01M231.4,238.8h.01M231.4,246.0h.01M231.4,253.2h.01M231.4,260.4h.01M231.4,267.6h.01M231.4,303.6h.01M231.4,310.8h.01M231.4,318.0h.01M231.4,325.2h.01M231.4,332.4h.01M231.4,339.6h.01M231.4,346.8h.01M231.4,354.0h.01M231.4,361.2h.01M231.4,368.4h.01M231.4,375.6h.01M231.4,382.8h.01M231.4,390.0h.01M231.4,397.2h.01M231.4,404.4h.01M231.4,411.6h.01M231.4,418.8h.01M231.4,426.0h.01M231.4,433.2h.01M231.4,440.4h.01M231.4,447.6h.01M231.4,454.8h.01M231.4,462.0h.01M231.4,469.2h.01M237.6,141.6h.01M237.6,148.8h.01M237.6,156.0h.01M237.6,163.2h.01M237.6,170.4h.01M237.6,177.6h.01M237.6,184.8h.01M237.6,192.0h.01M237.6,199.2h.01M237.6,206.4h.01M237.6,213.6h.01M237.6,220.8h.01M237.6,228.0h.01M237.6,235.2h.01M237.6,242.4h.01M237.6,249.6h.01M237.6,256.8h.01M237.6,264.0h.01M237.6,300.0h.01M237.6,307.2h.01M237.6,314.4h.01M237.6,321.6h.01M237.6,328.8h.01M237.6,336.0h.01M237.6,343.2h.01M237.6,350.4h.01M237.6,357.6h.01M237.6,364.8h.01M237.6,372.0h.01M237.6,379.2h.01M237.6,386.4h.01M237.6,393.6h.01M237.6,400.8h.01M237.6,408.0h.01M237.6,415.2h.01M237.6,422.4h.01M237.6,429.6h.01M237.6,436.8h.01M237.6,444.0h.01M237.6,451.2h.01M237.6,458.4h.01M243.8,145.2h.01M243.8,152.4h.01M243.8,159.6h.01M243.8,166.8h.01M243.8,174.0h.01M243.8,181.2h.01M243.8,188.4h.01M243.8,195.6h.01M243.8,202.8h.01M243.8,210.0h.01M243.8,217.2h.01M243.8,224.4h.01M243.8,231.6h.01M243.8,238.8h.01M243.8,246.0h.01M243.8,253.2h.01M243.8,260.4h.01M243.8,267.6h.01M243.8,303.6h.01M243.8,310.8h.01M243.8,318.0h.01M243.8,325.2h.01M243.8,332.4h.01M243.8,339.6h.01M243.8,346.8h.01M243.8,354.0h.01M243.8,361.2h.01M243.8,368.4h.01M243.8,375.6h.01M243.8,382.8h.01M243.8,390.0h.01M243.8,397.2h.01M243.8,404.4h.01M243.8,411.6h.01M243.8,418.8h.01M243.8,426.0h.01M243.8,433.2h.01M243.8,440.4h.01M243.8,447.6h.01M243.8,454.8h.01M250.0,141.6h.01M250.0,148.8h.01M250.0,156.0h.01M250.0,163.2h.01M250.0,170.4h.01M250.0,177.6h.01M250.0,184.8h.01M250.0,192.0h.01M250.0,199.2h.01M250.0,206.4h.01M250.0,213.6h.01M250.0,220.8h.01M250.0,228.0h.01M250.0,235.2h.01M250.0,242.4h.01M250.0,249.6h.01M250.0,256.8h.01M250.0,264.0h.01M250.0,300.0h.01M250.0,307.2h.01M250.0,314.4h.01M250.0,321.6h.01M250.0,328.8h.01M250.0,336.0h.01M250.0,343.2h.01M250.0,350.4h.01M250.0,357.6h.01M250.0,364.8h.01M250.0,372.0h.01M250.0,379.2h.01M250.0,386.4h.01M250.0,393.6h.01M250.0,400.8h.01M250.0,408.0h.01M250.0,415.2h.01M250.0,422.4h.01M250.0,429.6h.01M250.0,436.8h.01M250.0,444.0h.01M250.0,451.2h.01M256.2,145.2h.01M256.2,152.4h.01M256.2,159.6h.01M256.2,166.8h.01M256.2,174.0h.01M256.2,181.2h.01M256.2,188.4h.01M256.2,195.6h.01M256.2,202.8h.01M256.2,210.0h.01M256.2,217.2h.01M256.2,224.4h.01M256.2,231.6h.01M256.2,238.8h.01M256.2,246.0h.01M256.2,253.2h.01M256.2,260.4h.01M256.2,296.4h.01M256.2,303.6h.01M256.2,310.8h.01M256.2,318.0h.01M256.2,325.2h.01M256.2,332.4h.01M256.2,339.6h.01M256.2,346.8h.01M256.2,354.0h.01M256.2,361.2h.01M256.2,368.4h.01M256.2,375.6h.01M256.2,382.8h.01M256.2,390.0h.01M256.2,397.2h.01M256.2,404.4h.01M256.2,411.6h.01M256.2,418.8h.01M256.2,426.0h.01M256.2,433.2h.01M256.2,440.4h.01M256.2,447.6h.01M256.2,454.8h.01M262.4,141.6h.01M262.4,148.8h.01M262.4,156.0h.01M262.4,163.2h.01M262.4,170.4h.01M262.4,177.6h.01M262.4,184.8h.01M262.4,192.0h.01M262.4,199.2h.01M262.4,206.4h.01M262.4,213.6h.01M262.4,220.8h.01M262.4,228.0h.01M262.4,235.2h.01M262.4,242.4h.01M262.4,249.6h.01M262.4,256.8h.01M262.4,264.0h.01M262.4,300.0h.01M262.4,307.2h.01M262.4,314.4h.01M262.4,321.6h.01M262.4,328.8h.01M262.4,336.0h.01M262.4,343.2h.01M262.4,350.4h.01M262.4,357.6h.01M262.4,364.8h.01M262.4,372.0h.01M262.4,379.2h.01M262.4,386.4h.01M262.4,393.6h.01M262.4,400.8h.01M262.4,408.0h.01M262.4,415.2h.01M262.4,422.4h.01M262.4,429.6h.01M262.4,436.8h.01M262.4,444.0h.01M262.4,451.2h.01M262.4,458.4h.01M262.4,465.6h.01M268.6,145.2h.01M268.6,152.4h.01M268.6,159.6h.01M268.6,166.8h.01M268.6,174.0h.01M268.6,181.2h.01M268.6,188.4h.01M268.6,195.6h.01M268.6,202.8h.01M268.6,210.0h.01M268.6,217.2h.01M268.6,224.4h.01M268.6,231.6h.01M268.6,238.8h.01M268.6,246.0h.01M268.6,253.2h.01M268.6,260.4h.01M268.6,296.4h.01M268.6,303.6h.01M268.6,310.8h.01M268.6,318.0h.01M268.6,325.2h.01M268.6,332.4h.01M268.6,339.6h.01M268.6,346.8h.01M268.6,354.0h.01M268.6,361.2h.01M268.6,368.4h.01M268.6,375.6h.01M268.6,382.8h.01M268.6,390.0h.01M268.6,397.2h.01M268.6,404.4h.01M268.6,411.6h.01M268.6,418.8h.01M268.6,426.0h.01M268.6,433.2h.01M268.6,440.4h.01M268.6,447.6h.01M268.6,454.8h.01M268.6,462.0h.01M268.6,469.2h.01M268.6,476.4h.01M274.8,141.6h.01M274.8,148.8h.01M274.8,156.0h.01M274.8,163.2h.01M274.8,170.4h.01M274.8,177.6h.01M274.8,184.8h.01M274.8,192.0h.01M274.8,199.2h.01M274.8,206.4h.01M274.8,213.6h.01M274.8,220.8h.01M274.8,228.0h.01M274.8,235.2h.01M274.8,242.4h.01M274.8,249.6h.01M274.8,256.8h.01M274.8,300.0h.01M274.8,307.2h.01M274.8,314.4h.01M274.8,321.6h.01M274.8,328.8h.01M274.8,336.0h.01M274.8,343.2h.01M274.8,350.4h.01M274.8,357.6h.01M274.8,364.8h.01M274.8,372.0h.01M274.8,379.2h.01M274.8,386.4h.01M274.8,393.6h.01M274.8,400.8h.01M274.8,408.0h.01M274.8,415.2h.01M274.8,422.4h.01M274.8,429.6h.01M274.8,436.8h.01M274.8,444.0h.01M274.8,451.2h.01M274.8,458.4h.01M274.8,465.6h.01M274.8,472.8h.01M274.8,480.0h.01M281.0,145.2h.01M281.0,152.4h.01M281.0,159.6h.01M281.0,166.8h.01M281.0,174.0h.01M281.0,181.2h.01M281.0,188.4h.01M281.0,195.6h.01M281.0,202.8h.01M281.0,210.0h.01M281.0,217.2h.01M281.0,224.4h.01M281.0,231.6h.01M281.0,238.8h.01M281.0,246.0h.01M281.0,253.2h.01M281.0,296.4h.01M281.0,303.6h.01M281.0,310.8h.01M281.0,318.0h.01M281.0,325.2h.01M281.0,332.4h.01M281.0,339.6h.01M281.0,346.8h.01M281.0,354.0h.01M281.0,361.2h.01M281.0,368.4h.01M281.0,375.6h.01M281.0,382.8h.01M281.0,390.0h.01M281.0,397.2h.01M281.0,404.4h.01M281.0,411.6h.01M281.0,418.8h.01M281.0,426.0h.01M281.0,433.2h.01M281.0,440.4h.01M281.0,447.6h.01M281.0,454.8h.01M281.0,462.0h.01M281.0,469.2h.01M281.0,476.4h.01M281.0,483.6h.01M281.0,490.8h.01M287.2,141.6h.01M287.2,148.8h.01M287.2,156.0h.01M287.2,163.2h.01M287.2,170.4h.01M287.2,177.6h.01M287.2,184.8h.01M287.2,192.0h.01M287.2,199.2h.01M287.2,206.4h.01M287.2,213.6h.01M287.2,220.8h.01M287.2,228.0h.01M287.2,235.2h.01M287.2,242.4h.01M287.2,300.0h.01M287.2,307.2h.01M287.2,314.4h.01M287.2,321.6h.01M287.2,328.8h.01M287.2,336.0h.01M287.2,343.2h.01M287.2,350.4h.01M287.2,357.6h.01M287.2,364.8h.01M287.2,372.0h.01M287.2,379.2h.01M287.2,386.4h.01M287.2,393.6h.01M287.2,400.8h.01M287.2,408.0h.01M287.2,415.2h.01M287.2,422.4h.01M287.2,429.6h.01M287.2,436.8h.01M287.2,444.0h.01M287.2,451.2h.01M287.2,458.4h.01M287.2,465.6h.01M287.2,472.8h.01M287.2,480.0h.01M287.2,487.2h.01M287.2,494.4h.01M287.2,501.6h.01M293.4,145.2h.01M293.4,152.4h.01M293.4,159.6h.01M293.4,166.8h.01M293.4,174.0h.01M293.4,181.2h.01M293.4,188.4h.01M293.4,195.6h.01M293.4,202.8h.01M293.4,210.0h.01M293.4,217.2h.01M293.4,224.4h.01M293.4,231.6h.01M293.4,296.4h.01M293.4,303.6h.01M293.4,310.8h.01M293.4,318.0h.01M293.4,325.2h.01M293.4,332.4h.01M293.4,339.6h.01M293.4,346.8h.01M293.4,354.0h.01M293.4,361.2h.01M293.4,368.4h.01M293.4,375.6h.01M293.4,382.8h.01M293.4,390.0h.01M293.4,397.2h.01M293.4,404.4h.01M293.4,411.6h.01M293.4,418.8h.01M293.4,426.0h.01M293.4,433.2h.01M293.4,440.4h.01M293.4,447.6h.01M293.4,454.8h.01M293.4,462.0h.01M293.4,469.2h.01M293.4,476.4h.01M293.4,483.6h.01M293.4,490.8h.01M293.4,498.0h.01M293.4,505.2h.01M299.6,156.0h.01M299.6,163.2h.01M299.6,170.4h.01M299.6,177.6h.01M299.6,184.8h.01M299.6,192.0h.01M299.6,199.2h.01M299.6,206.4h.01M299.6,213.6h.01M299.6,220.8h.01M299.6,292.8h.01M299.6,300.0h.01M299.6,307.2h.01M299.6,314.4h.01M299.6,321.6h.01M299.6,328.8h.01M299.6,336.0h.01M299.6,343.2h.01M299.6,350.4h.01M299.6,357.6h.01M299.6,364.8h.01M299.6,372.0h.01M299.6,379.2h.01M299.6,386.4h.01M299.6,393.6h.01M299.6,400.8h.01M299.6,408.0h.01M299.6,415.2h.01M299.6,422.4h.01M299.6,429.6h.01M299.6,436.8h.01M299.6,444.0h.01M299.6,451.2h.01M299.6,458.4h.01M299.6,465.6h.01M299.6,472.8h.01M299.6,480.0h.01M299.6,487.2h.01M299.6,494.4h.01M299.6,501.6h.01M299.6,508.8h.01M299.6,516.0h.01M305.8,166.8h.01M305.8,174.0h.01M305.8,181.2h.01M305.8,188.4h.01M305.8,296.4h.01M305.8,303.6h.01M305.8,310.8h.01M305.8,318.0h.01M305.8,325.2h.01M305.8,332.4h.01M305.8,339.6h.01M305.8,346.8h.01M305.8,354.0h.01M305.8,361.2h.01M305.8,368.4h.01M305.8,375.6h.01M305.8,382.8h.01M305.8,390.0h.01M305.8,397.2h.01M305.8,404.4h.01M305.8,411.6h.01M305.8,418.8h.01M305.8,426.0h.01M305.8,433.2h.01M305.8,440.4h.01M305.8,447.6h.01M305.8,454.8h.01M305.8,462.0h.01M305.8,469.2h.01M305.8,476.4h.01M305.8,483.6h.01M305.8,490.8h.01M305.8,498.0h.01M305.8,505.2h.01M305.8,512.4h.01M305.8,519.6h.01M312.0,292.8h.01M312.0,300.0h.01M312.0,307.2h.01M312.0,314.4h.01M312.0,321.6h.01M312.0,328.8h.01M312.0,336.0h.01M312.0,343.2h.01M312.0,350.4h.01M312.0,357.6h.01M312.0,364.8h.01M312.0,372.0h.01M312.0,379.2h.01M312.0,386.4h.01M312.0,393.6h.01M312.0,400.8h.01M312.0,408.0h.01M312.0,415.2h.01M312.0,422.4h.01M312.0,429.6h.01M312.0,436.8h.01M312.0,444.0h.01M312.0,451.2h.01M312.0,458.4h.01M312.0,465.6h.01M312.0,472.8h.01M312.0,480.0h.01M312.0,487.2h.01M312.0,494.4h.01M312.0,501.6h.01M312.0,508.8h.01M312.0,516.0h.01M318.2,296.4h.01M318.2,303.6h.01M318.2,310.8h.01M318.2,318.0h.01M318.2,325.2h.01M318.2,332.4h.01M318.2,339.6h.01M318.2,346.8h.01M318.2,354.0h.01M318.2,361.2h.01M318.2,368.4h.01M318.2,375.6h.01M318.2,382.8h.01M318.2,390.0h.01M318.2,397.2h.01M318.2,404.4h.01M318.2,411.6h.01M318.2,418.8h.01M318.2,426.0h.01M318.2,433.2h.01M318.2,440.4h.01M318.2,447.6h.01M318.2,454.8h.01M318.2,462.0h.01M318.2,469.2h.01M318.2,476.4h.01M318.2,483.6h.01M318.2,490.8h.01M318.2,498.0h.01M318.2,505.2h.01M318.2,512.4h.01M318.2,519.6h.01M324.4,292.8h.01M324.4,300.0h.01M324.4,307.2h.01M324.4,314.4h.01M324.4,321.6h.01M324.4,328.8h.01M324.4,336.0h.01M324.4,343.2h.01M324.4,350.4h.01M324.4,357.6h.01M324.4,364.8h.01M324.4,372.0h.01M324.4,379.2h.01M324.4,386.4h.01M324.4,393.6h.01M324.4,400.8h.01M324.4,408.0h.01M324.4,415.2h.01M324.4,422.4h.01M324.4,429.6h.01M324.4,436.8h.01M324.4,444.0h.01M324.4,451.2h.01M324.4,458.4h.01M324.4,465.6h.01M324.4,472.8h.01M324.4,480.0h.01M324.4,487.2h.01M324.4,494.4h.01M324.4,501.6h.01M324.4,508.8h.01M324.4,516.0h.01M330.6,296.4h.01M330.6,303.6h.01M330.6,310.8h.01M330.6,318.0h.01M330.6,325.2h.01M330.6,332.4h.01M330.6,339.6h.01M330.6,346.8h.01M330.6,354.0h.01M330.6,361.2h.01M330.6,368.4h.01M330.6,375.6h.01M330.6,382.8h.01M330.6,390.0h.01M330.6,397.2h.01M330.6,404.4h.01M330.6,411.6h.01M330.6,418.8h.01M330.6,426.0h.01M330.6,433.2h.01M330.6,440.4h.01M330.6,447.6h.01M330.6,454.8h.01M330.6,462.0h.01M330.6,469.2h.01M330.6,476.4h.01M330.6,483.6h.01M330.6,490.8h.01M330.6,498.0h.01M330.6,505.2h.01M330.6,512.4h.01M330.6,519.6h.01M336.8,292.8h.01M336.8,300.0h.01M336.8,307.2h.01M336.8,314.4h.01M336.8,321.6h.01M336.8,328.8h.01M336.8,336.0h.01M336.8,343.2h.01M336.8,350.4h.01M336.8,357.6h.01M336.8,364.8h.01M336.8,372.0h.01M336.8,379.2h.01M336.8,386.4h.01M336.8,393.6h.01M336.8,400.8h.01M336.8,408.0h.01M336.8,415.2h.01M336.8,422.4h.01M336.8,429.6h.01M336.8,436.8h.01M336.8,444.0h.01M336.8,451.2h.01M336.8,458.4h.01M336.8,465.6h.01M336.8,472.8h.01M336.8,480.0h.01M336.8,487.2h.01M336.8,494.4h.01M336.8,501.6h.01M336.8,508.8h.01M336.8,516.0h.01M343.0,296.4h.01M343.0,303.6h.01M343.0,310.8h.01M343.0,318.0h.01M343.0,325.2h.01M343.0,332.4h.01M343.0,339.6h.01M343.0,346.8h.01M343.0,354.0h.01M343.0,361.2h.01M343.0,368.4h.01M343.0,375.6h.01M343.0,382.8h.01M343.0,390.0h.01M343.0,397.2h.01M343.0,404.4h.01M343.0,411.6h.01M343.0,418.8h.01M343.0,426.0h.01M343.0,433.2h.01M343.0,440.4h.01M343.0,447.6h.01M343.0,454.8h.01M343.0,462.0h.01M343.0,469.2h.01M343.0,476.4h.01M343.0,483.6h.01M343.0,490.8h.01M343.0,498.0h.01M343.0,505.2h.01M343.0,512.4h.01M343.0,519.6h.01M349.2,300.0h.01M349.2,307.2h.01M349.2,314.4h.01M349.2,321.6h.01M349.2,328.8h.01M349.2,336.0h.01M349.2,343.2h.01M349.2,350.4h.01M349.2,357.6h.01M349.2,364.8h.01M349.2,372.0h.01M349.2,379.2h.01M349.2,386.4h.01M349.2,393.6h.01M349.2,400.8h.01M349.2,408.0h.01M349.2,415.2h.01M349.2,422.4h.01M349.2,429.6h.01M349.2,436.8h.01M349.2,444.0h.01M349.2,451.2h.01M349.2,458.4h.01M349.2,465.6h.01M349.2,472.8h.01M349.2,480.0h.01M349.2,487.2h.01M349.2,494.4h.01M349.2,501.6h.01M349.2,508.8h.01M349.2,516.0h.01M355.4,303.6h.01M355.4,310.8h.01M355.4,318.0h.01M355.4,325.2h.01M355.4,332.4h.01M355.4,339.6h.01M355.4,346.8h.01M355.4,354.0h.01M355.4,361.2h.01M355.4,368.4h.01M355.4,375.6h.01M355.4,382.8h.01M355.4,390.0h.01M355.4,397.2h.01M355.4,404.4h.01M355.4,411.6h.01M355.4,418.8h.01M355.4,426.0h.01M355.4,433.2h.01M355.4,440.4h.01M355.4,447.6h.01M355.4,454.8h.01M355.4,462.0h.01M355.4,469.2h.01M355.4,476.4h.01M355.4,483.6h.01M355.4,490.8h.01M355.4,498.0h.01M355.4,505.2h.01M355.4,512.4h.01M355.4,519.6h.01M361.6,300.0h.01M361.6,307.2h.01M361.6,314.4h.01M361.6,321.6h.01M361.6,328.8h.01M361.6,336.0h.01M361.6,343.2h.01M361.6,350.4h.01M361.6,357.6h.01M361.6,364.8h.01M361.6,372.0h.01M361.6,379.2h.01M361.6,386.4h.01M361.6,393.6h.01M361.6,400.8h.01M361.6,408.0h.01M361.6,415.2h.01M361.6,422.4h.01M361.6,429.6h.01M361.6,436.8h.01M361.6,444.0h.01M361.6,451.2h.01M361.6,458.4h.01M361.6,465.6h.01M361.6,472.8h.01M361.6,480.0h.01M361.6,487.2h.01M361.6,494.4h.01M361.6,501.6h.01M361.6,508.8h.01M361.6,516.0h.01M367.8,303.6h.01M367.8,310.8h.01M367.8,318.0h.01M367.8,325.2h.01M367.8,332.4h.01M367.8,339.6h.01M367.8,346.8h.01M367.8,354.0h.01M367.8,361.2h.01M367.8,368.4h.01M367.8,375.6h.01M367.8,382.8h.01M367.8,390.0h.01M367.8,397.2h.01M367.8,404.4h.01M367.8,411.6h.01M367.8,418.8h.01M367.8,426.0h.01M367.8,433.2h.01M367.8,440.4h.01M367.8,447.6h.01M367.8,454.8h.01M367.8,462.0h.01M367.8,469.2h.01M367.8,476.4h.01M367.8,483.6h.01M367.8,490.8h.01M367.8,498.0h.01M367.8,505.2h.01M367.8,512.4h.01M367.8,519.6h.01M374.0,307.2h.01M374.0,314.4h.01M374.0,321.6h.01M374.0,328.8h.01M374.0,336.0h.01M374.0,343.2h.01M374.0,350.4h.01M374.0,357.6h.01M374.0,364.8h.01M374.0,372.0h.01M374.0,379.2h.01M374.0,386.4h.01M374.0,393.6h.01M374.0,400.8h.01M374.0,408.0h.01M374.0,415.2h.01M374.0,422.4h.01M374.0,429.6h.01M374.0,436.8h.01M374.0,444.0h.01M374.0,451.2h.01M374.0,458.4h.01M374.0,465.6h.01M374.0,472.8h.01M374.0,480.0h.01M374.0,487.2h.01M374.0,494.4h.01M374.0,501.6h.01M374.0,508.8h.01M374.0,516.0h.01M380.2,310.8h.01M380.2,318.0h.01M380.2,325.2h.01M380.2,332.4h.01M380.2,339.6h.01M380.2,346.8h.01M380.2,354.0h.01M380.2,361.2h.01M380.2,368.4h.01M380.2,375.6h.01M380.2,382.8h.01M380.2,390.0h.01M380.2,397.2h.01M380.2,404.4h.01M380.2,411.6h.01M380.2,418.8h.01M380.2,426.0h.01M380.2,433.2h.01M380.2,440.4h.01M380.2,447.6h.01M380.2,454.8h.01M380.2,462.0h.01M380.2,469.2h.01M380.2,476.4h.01M380.2,483.6h.01M380.2,490.8h.01M380.2,498.0h.01M380.2,505.2h.01M380.2,512.4h.01M380.2,519.6h.01M386.4,307.2h.01M386.4,314.4h.01M386.4,321.6h.01M386.4,328.8h.01M386.4,336.0h.01M386.4,343.2h.01M386.4,350.4h.01M386.4,357.6h.01M386.4,364.8h.01M386.4,372.0h.01M386.4,379.2h.01M386.4,386.4h.01M386.4,393.6h.01M386.4,400.8h.01M386.4,408.0h.01M386.4,415.2h.01M386.4,422.4h.01M386.4,429.6h.01M386.4,436.8h.01M386.4,444.0h.01M386.4,451.2h.01M386.4,458.4h.01M386.4,465.6h.01M386.4,472.8h.01M386.4,480.0h.01M386.4,487.2h.01M386.4,494.4h.01M386.4,501.6h.01M386.4,508.8h.01M386.4,516.0h.01M392.6,310.8h.01M392.6,318.0h.01M392.6,325.2h.01M392.6,332.4h.01M392.6,339.6h.01M392.6,346.8h.01M392.6,354.0h.01M392.6,361.2h.01M392.6,368.4h.01M392.6,375.6h.01M392.6,382.8h.01M392.6,390.0h.01M392.6,397.2h.01M392.6,404.4h.01M392.6,411.6h.01M392.6,418.8h.01M392.6,426.0h.01M392.6,433.2h.01M392.6,440.4h.01M392.6,447.6h.01M392.6,454.8h.01M392.6,462.0h.01M392.6,469.2h.01M392.6,476.4h.01M392.6,483.6h.01M392.6,490.8h.01M392.6,498.0h.01M392.6,505.2h.01M392.6,512.4h.01M392.6,519.6h.01M398.8,314.4h.01M398.8,321.6h.01M398.8,328.8h.01M398.8,336.0h.01M398.8,343.2h.01M398.8,350.4h.01M398.8,357.6h.01M398.8,364.8h.01M398.8,372.0h.01M398.8,379.2h.01M398.8,386.4h.01M398.8,393.6h.01M398.8,400.8h.01M398.8,408.0h.01M398.8,415.2h.01M398.8,422.4h.01M398.8,429.6h.01M398.8,436.8h.01M398.8,444.0h.01M398.8,451.2h.01M398.8,458.4h.01M398.8,465.6h.01M398.8,472.8h.01M398.8,480.0h.01M398.8,487.2h.01M398.8,494.4h.01M398.8,501.6h.01M398.8,508.8h.01M398.8,516.0h.01M405.0,318.0h.01M405.0,325.2h.01M405.0,332.4h.01M405.0,339.6h.01M405.0,346.8h.01M405.0,354.0h.01M405.0,361.2h.01M405.0,368.4h.01M405.0,375.6h.01M405.0,382.8h.01M405.0,390.0h.01M405.0,397.2h.01M405.0,404.4h.01M405.0,411.6h.01M405.0,418.8h.01M405.0,426.0h.01M405.0,433.2h.01M405.0,440.4h.01M405.0,447.6h.01M405.0,454.8h.01M405.0,462.0h.01M405.0,469.2h.01M405.0,476.4h.01M405.0,483.6h.01M405.0,490.8h.01M405.0,498.0h.01M405.0,505.2h.01M405.0,512.4h.01M405.0,519.6h.01M411.2,314.4h.01M411.2,321.6h.01M411.2,328.8h.01M411.2,336.0h.01M411.2,343.2h.01M411.2,350.4h.01M411.2,357.6h.01M411.2,364.8h.01M411.2,372.0h.01M411.2,379.2h.01M411.2,386.4h.01M411.2,393.6h.01M411.2,400.8h.01M411.2,408.0h.01M411.2,415.2h.01M411.2,422.4h.01M411.2,429.6h.01M411.2,436.8h.01M411.2,444.0h.01M411.2,451.2h.01M411.2,458.4h.01M411.2,465.6h.01M411.2,472.8h.01M411.2,480.0h.01M411.2,487.2h.01M411.2,494.4h.01M411.2,501.6h.01M411.2,508.8h.01M411.2,516.0h.01M417.4,318.0h.01M417.4,325.2h.01M417.4,332.4h.01M417.4,339.6h.01M417.4,346.8h.01M417.4,354.0h.01M417.4,361.2h.01M417.4,368.4h.01M417.4,375.6h.01M417.4,382.8h.01M417.4,390.0h.01M417.4,397.2h.01M417.4,404.4h.01M417.4,411.6h.01M417.4,418.8h.01M417.4,426.0h.01M417.4,433.2h.01M417.4,440.4h.01M417.4,447.6h.01M417.4,454.8h.01M417.4,462.0h.01M417.4,469.2h.01M417.4,476.4h.01M417.4,483.6h.01M417.4,490.8h.01M417.4,498.0h.01M417.4,505.2h.01M417.4,512.4h.01M417.4,519.6h.01M423.6,321.6h.01M423.6,328.8h.01M423.6,336.0h.01M423.6,343.2h.01M423.6,350.4h.01M423.6,357.6h.01M423.6,364.8h.01M423.6,372.0h.01M423.6,379.2h.01M423.6,386.4h.01M423.6,393.6h.01M423.6,400.8h.01M423.6,408.0h.01M423.6,415.2h.01M423.6,422.4h.01M423.6,429.6h.01M423.6,436.8h.01M423.6,444.0h.01M423.6,451.2h.01M423.6,458.4h.01M423.6,465.6h.01M423.6,472.8h.01M423.6,480.0h.01M423.6,487.2h.01M423.6,494.4h.01M423.6,501.6h.01M423.6,508.8h.01M423.6,516.0h.01M429.8,325.2h.01M429.8,332.4h.01M429.8,339.6h.01M429.8,346.8h.01M429.8,354.0h.01M429.8,361.2h.01M429.8,368.4h.01M429.8,375.6h.01M429.8,382.8h.01M429.8,390.0h.01M429.8,397.2h.01M429.8,404.4h.01M429.8,411.6h.01M429.8,418.8h.01M429.8,426.0h.01M429.8,433.2h.01M429.8,440.4h.01M429.8,447.6h.01M429.8,454.8h.01M429.8,462.0h.01M429.8,469.2h.01M429.8,476.4h.01M429.8,483.6h.01M429.8,490.8h.01M429.8,498.0h.01M429.8,505.2h.01M436.0,321.6h.01M436.0,328.8h.01M436.0,336.0h.01M436.0,343.2h.01M436.0,350.4h.01M436.0,357.6h.01M436.0,364.8h.01M436.0,372.0h.01M436.0,379.2h.01M436.0,386.4h.01M436.0,393.6h.01M436.0,400.8h.01M436.0,408.0h.01M436.0,415.2h.01M436.0,422.4h.01M436.0,429.6h.01M436.0,436.8h.01M436.0,444.0h.01M436.0,451.2h.01M436.0,458.4h.01M436.0,465.6h.01M436.0,472.8h.01M436.0,480.0h.01M436.0,487.2h.01M436.0,494.4h.01M436.0,501.6h.01M442.2,325.2h.01M442.2,332.4h.01M442.2,339.6h.01M442.2,346.8h.01M442.2,354.0h.01M442.2,361.2h.01M442.2,368.4h.01M442.2,375.6h.01M442.2,382.8h.01M442.2,390.0h.01M442.2,397.2h.01M442.2,404.4h.01M442.2,411.6h.01M442.2,418.8h.01M442.2,426.0h.01M442.2,433.2h.01M442.2,440.4h.01M442.2,447.6h.01M442.2,454.8h.01M442.2,462.0h.01M442.2,469.2h.01M442.2,476.4h.01M442.2,483.6h.01M442.2,490.8h.01M448.4,328.8h.01M448.4,336.0h.01M448.4,343.2h.01M448.4,350.4h.01M448.4,357.6h.01M448.4,364.8h.01M448.4,372.0h.01M448.4,379.2h.01M448.4,386.4h.01M448.4,393.6h.01M448.4,400.8h.01M448.4,408.0h.01M448.4,415.2h.01M448.4,422.4h.01M448.4,429.6h.01M448.4,436.8h.01M448.4,444.0h.01M448.4,451.2h.01M448.4,458.4h.01M448.4,465.6h.01M448.4,472.8h.01M448.4,480.0h.01M448.4,487.2h.01M454.6,332.4h.01M454.6,339.6h.01M454.6,346.8h.01M454.6,354.0h.01M454.6,361.2h.01M454.6,368.4h.01M454.6,375.6h.01M454.6,382.8h.01M454.6,390.0h.01M454.6,397.2h.01M454.6,404.4h.01M454.6,411.6h.01M454.6,418.8h.01M454.6,426.0h.01M454.6,433.2h.01M454.6,440.4h.01M454.6,447.6h.01M454.6,454.8h.01M454.6,462.0h.01M454.6,469.2h.01M454.6,476.4h.01M454.6,483.6h.01M460.8,328.8h.01M460.8,336.0h.01M460.8,343.2h.01M460.8,350.4h.01M460.8,357.6h.01M460.8,364.8h.01M460.8,372.0h.01M460.8,379.2h.01M460.8,386.4h.01M460.8,393.6h.01M460.8,400.8h.01M460.8,408.0h.01M460.8,415.2h.01M460.8,422.4h.01M460.8,429.6h.01M460.8,436.8h.01M460.8,444.0h.01M460.8,451.2h.01M460.8,458.4h.01M460.8,465.6h.01M460.8,472.8h.01M467.0,332.4h.01M467.0,339.6h.01M467.0,346.8h.01M467.0,354.0h.01M467.0,361.2h.01M467.0,368.4h.01M467.0,375.6h.01M467.0,382.8h.01M467.0,390.0h.01M467.0,397.2h.01M467.0,404.4h.01M467.0,411.6h.01M467.0,418.8h.01M467.0,426.0h.01M467.0,433.2h.01M467.0,440.4h.01M467.0,447.6h.01M467.0,454.8h.01M467.0,462.0h.01M467.0,469.2h.01M473.2,235.2h.01M473.2,242.4h.01M473.2,249.6h.01M473.2,256.8h.01M473.2,264.0h.01M473.2,271.2h.01M473.2,278.4h.01M473.2,285.6h.01M473.2,292.8h.01M473.2,336.0h.01M473.2,343.2h.01M473.2,350.4h.01M473.2,357.6h.01M473.2,364.8h.01M473.2,372.0h.01M473.2,379.2h.01M473.2,386.4h.01M473.2,393.6h.01M473.2,400.8h.01M473.2,408.0h.01M473.2,415.2h.01M473.2,422.4h.01M473.2,429.6h.01M473.2,436.8h.01M473.2,444.0h.01M473.2,451.2h.01M473.2,458.4h.01M473.2,465.6h.01M479.4,231.6h.01M479.4,238.8h.01M479.4,246.0h.01M479.4,253.2h.01M479.4,260.4h.01M479.4,267.6h.01M479.4,274.8h.01M479.4,282.0h.01M479.4,289.2h.01M479.4,296.4h.01M479.4,303.6h.01M479.4,310.8h.01M479.4,318.0h.01M479.4,325.2h.01M479.4,354.0h.01M479.4,361.2h.01M479.4,368.4h.01M479.4,375.6h.01M479.4,382.8h.01M479.4,390.0h.01M479.4,397.2h.01M479.4,404.4h.01M479.4,411.6h.01M479.4,418.8h.01M479.4,426.0h.01M479.4,433.2h.01M479.4,440.4h.01M479.4,447.6h.01M479.4,454.8h.01M485.6,235.2h.01M485.6,242.4h.01M485.6,249.6h.01M485.6,256.8h.01M485.6,264.0h.01M485.6,271.2h.01M485.6,278.4h.01M485.6,285.6h.01M485.6,292.8h.01M485.6,300.0h.01M485.6,307.2h.01M485.6,314.4h.01M485.6,321.6h.01M485.6,328.8h.01M485.6,336.0h.01M485.6,343.2h.01M485.6,364.8h.01M485.6,372.0h.01M485.6,379.2h.01M485.6,386.4h.01M485.6,393.6h.01M485.6,400.8h.01M485.6,408.0h.01M485.6,415.2h.01M485.6,422.4h.01M485.6,429.6h.01M485.6,436.8h.01M485.6,444.0h.01M485.6,451.2h.01M491.8,231.6h.01M491.8,238.8h.01M491.8,246.0h.01M491.8,253.2h.01M491.8,260.4h.01M491.8,267.6h.01M491.8,274.8h.01M491.8,282.0h.01M491.8,289.2h.01M491.8,296.4h.01M491.8,303.6h.01M491.8,310.8h.01M491.8,318.0h.01M491.8,325.2h.01M491.8,332.4h.01M491.8,339.6h.01M491.8,346.8h.01M491.8,354.0h.01M491.8,361.2h.01M491.8,368.4h.01M491.8,375.6h.01M491.8,382.8h.01M491.8,390.0h.01M491.8,397.2h.01M491.8,404.4h.01M491.8,411.6h.01M491.8,418.8h.01M491.8,426.0h.01M491.8,433.2h.01M491.8,440.4h.01M491.8,447.6h.01M498.0,235.2h.01M498.0,242.4h.01M498.0,249.6h.01M498.0,256.8h.01M498.0,264.0h.01M498.0,271.2h.01M498.0,278.4h.01M498.0,285.6h.01M498.0,292.8h.01M498.0,300.0h.01M498.0,307.2h.01M498.0,314.4h.01M498.0,321.6h.01M498.0,328.8h.01M498.0,336.0h.01M498.0,343.2h.01M498.0,350.4h.01M498.0,357.6h.01M498.0,364.8h.01M498.0,372.0h.01M498.0,379.2h.01M498.0,386.4h.01M498.0,393.6h.01M498.0,400.8h.01M498.0,408.0h.01M498.0,415.2h.01M498.0,422.4h.01M498.0,429.6h.01M498.0,436.8h.01M504.2,231.6h.01M504.2,238.8h.01M504.2,246.0h.01M504.2,253.2h.01M504.2,260.4h.01M504.2,267.6h.01M504.2,274.8h.01M504.2,282.0h.01M504.2,289.2h.01M504.2,296.4h.01M504.2,303.6h.01M504.2,310.8h.01M504.2,318.0h.01M504.2,325.2h.01M504.2,332.4h.01M504.2,339.6h.01M504.2,346.8h.01M504.2,354.0h.01M504.2,361.2h.01M504.2,368.4h.01M504.2,375.6h.01M504.2,382.8h.01M504.2,390.0h.01M504.2,397.2h.01M504.2,404.4h.01M504.2,411.6h.01M504.2,418.8h.01M504.2,426.0h.01M504.2,433.2h.01M510.4,228.0h.01M510.4,235.2h.01M510.4,242.4h.01M510.4,249.6h.01M510.4,256.8h.01M510.4,264.0h.01M510.4,271.2h.01M510.4,278.4h.01M510.4,285.6h.01M510.4,292.8h.01M510.4,300.0h.01M510.4,307.2h.01M510.4,314.4h.01M510.4,321.6h.01M510.4,328.8h.01M510.4,336.0h.01M510.4,343.2h.01M510.4,350.4h.01M510.4,357.6h.01M510.4,364.8h.01M510.4,372.0h.01M510.4,379.2h.01M510.4,386.4h.01M510.4,393.6h.01M510.4,400.8h.01M510.4,408.0h.01M510.4,415.2h.01M510.4,422.4h.01M510.4,429.6h.01M516.6,231.6h.01M516.6,238.8h.01M516.6,246.0h.01M516.6,253.2h.01M516.6,260.4h.01M516.6,267.6h.01M516.6,274.8h.01M516.6,282.0h.01M516.6,289.2h.01M516.6,296.4h.01M516.6,303.6h.01M516.6,310.8h.01M516.6,318.0h.01M516.6,325.2h.01M516.6,332.4h.01M516.6,339.6h.01M516.6,346.8h.01M516.6,354.0h.01M516.6,361.2h.01M516.6,368.4h.01M516.6,375.6h.01M516.6,382.8h.01M516.6,390.0h.01M516.6,397.2h.01M516.6,404.4h.01M516.6,411.6h.01M516.6,418.8h.01M516.6,426.0h.01M522.8,228.0h.01M522.8,235.2h.01M522.8,242.4h.01M522.8,249.6h.01M522.8,256.8h.01M522.8,264.0h.01M522.8,271.2h.01M522.8,278.4h.01M522.8,285.6h.01M522.8,292.8h.01M522.8,300.0h.01M522.8,307.2h.01M522.8,314.4h.01M522.8,321.6h.01M522.8,328.8h.01M522.8,336.0h.01M522.8,343.2h.01M522.8,350.4h.01M522.8,357.6h.01M522.8,364.8h.01M522.8,372.0h.01M522.8,379.2h.01M522.8,386.4h.01M522.8,393.6h.01M522.8,400.8h.01M522.8,408.0h.01M522.8,415.2h.01M522.8,422.4h.01M522.8,429.6h.01M522.8,436.8h.01M529.0,224.4h.01M529.0,231.6h.01M529.0,238.8h.01M529.0,246.0h.01M529.0,253.2h.01M529.0,260.4h.01M529.0,267.6h.01M529.0,274.8h.01M529.0,282.0h.01M529.0,289.2h.01M529.0,296.4h.01M529.0,303.6h.01M529.0,310.8h.01M529.0,318.0h.01M529.0,325.2h.01M529.0,332.4h.01M529.0,339.6h.01M529.0,346.8h.01M529.0,354.0h.01M529.0,361.2h.01M529.0,368.4h.01M529.0,375.6h.01M529.0,382.8h.01M529.0,390.0h.01M529.0,397.2h.01M529.0,404.4h.01M529.0,411.6h.01M529.0,418.8h.01M529.0,426.0h.01M529.0,433.2h.01M535.2,228.0h.01M535.2,235.2h.01M535.2,242.4h.01M535.2,249.6h.01M535.2,256.8h.01M535.2,264.0h.01M535.2,271.2h.01M535.2,278.4h.01M535.2,285.6h.01M535.2,292.8h.01M535.2,300.0h.01M535.2,307.2h.01M535.2,314.4h.01M535.2,321.6h.01M535.2,328.8h.01M535.2,336.0h.01M535.2,343.2h.01M535.2,350.4h.01M535.2,357.6h.01M535.2,364.8h.01M535.2,372.0h.01M535.2,379.2h.01M535.2,386.4h.01M535.2,393.6h.01M535.2,400.8h.01M535.2,408.0h.01M535.2,415.2h.01M535.2,422.4h.01M535.2,429.6h.01M541.4,224.4h.01M541.4,231.6h.01M541.4,238.8h.01M541.4,246.0h.01M541.4,253.2h.01M541.4,260.4h.01M541.4,267.6h.01M541.4,274.8h.01M541.4,282.0h.01M541.4,289.2h.01M541.4,296.4h.01M541.4,303.6h.01M541.4,310.8h.01M541.4,318.0h.01M541.4,325.2h.01M541.4,332.4h.01M541.4,339.6h.01M541.4,346.8h.01M541.4,354.0h.01M541.4,361.2h.01M541.4,368.4h.01M541.4,375.6h.01M541.4,382.8h.01M541.4,390.0h.01M541.4,397.2h.01M541.4,404.4h.01M541.4,411.6h.01M541.4,418.8h.01M541.4,426.0h.01M547.6,228.0h.01M547.6,235.2h.01M547.6,242.4h.01M547.6,249.6h.01M547.6,256.8h.01M547.6,264.0h.01M547.6,271.2h.01M547.6,278.4h.01M547.6,285.6h.01M547.6,292.8h.01M547.6,300.0h.01M547.6,307.2h.01M547.6,314.4h.01M547.6,321.6h.01M547.6,328.8h.01M547.6,336.0h.01M547.6,343.2h.01M547.6,350.4h.01M547.6,357.6h.01M547.6,364.8h.01M547.6,372.0h.01M547.6,379.2h.01M547.6,386.4h.01M547.6,393.6h.01M547.6,400.8h.01M547.6,408.0h.01M547.6,415.2h.01M547.6,422.4h.01M553.8,231.6h.01M553.8,238.8h.01M553.8,246.0h.01M553.8,253.2h.01M553.8,260.4h.01M553.8,267.6h.01M553.8,274.8h.01M553.8,282.0h.01M553.8,289.2h.01M553.8,296.4h.01M553.8,303.6h.01M553.8,310.8h.01M553.8,318.0h.01M553.8,325.2h.01M553.8,332.4h.01M553.8,339.6h.01M553.8,346.8h.01M553.8,354.0h.01M553.8,361.2h.01M553.8,368.4h.01M553.8,375.6h.01M553.8,382.8h.01M553.8,390.0h.01M553.8,397.2h.01M553.8,404.4h.01M553.8,411.6h.01M553.8,418.8h.01M553.8,426.0h.01M560.0,228.0h.01M560.0,235.2h.01M560.0,242.4h.01M560.0,249.6h.01M560.0,256.8h.01M560.0,264.0h.01M560.0,271.2h.01M560.0,278.4h.01M560.0,285.6h.01M560.0,292.8h.01M560.0,300.0h.01M560.0,307.2h.01M560.0,314.4h.01M560.0,321.6h.01M560.0,328.8h.01M560.0,336.0h.01M560.0,343.2h.01M560.0,350.4h.01M560.0,357.6h.01M560.0,364.8h.01M560.0,372.0h.01M560.0,379.2h.01M560.0,386.4h.01M560.0,393.6h.01M560.0,400.8h.01M560.0,408.0h.01M560.0,415.2h.01M560.0,422.4h.01M566.2,231.6h.01M566.2,238.8h.01M566.2,246.0h.01M566.2,253.2h.01M566.2,260.4h.01M566.2,267.6h.01M566.2,274.8h.01M566.2,282.0h.01M566.2,289.2h.01M566.2,296.4h.01M566.2,303.6h.01M566.2,310.8h.01M566.2,318.0h.01M566.2,325.2h.01M566.2,332.4h.01M566.2,339.6h.01M566.2,346.8h.01M566.2,354.0h.01M566.2,361.2h.01M566.2,368.4h.01M566.2,375.6h.01M566.2,382.8h.01M566.2,390.0h.01M566.2,397.2h.01M566.2,404.4h.01M566.2,411.6h.01M566.2,418.8h.01M572.4,228.0h.01M572.4,235.2h.01M572.4,242.4h.01M572.4,249.6h.01M572.4,256.8h.01M572.4,264.0h.01M572.4,271.2h.01M572.4,278.4h.01M572.4,285.6h.01M572.4,292.8h.01M572.4,300.0h.01M572.4,307.2h.01M572.4,314.4h.01M572.4,321.6h.01M572.4,328.8h.01M572.4,336.0h.01M572.4,343.2h.01M572.4,350.4h.01M572.4,357.6h.01M572.4,364.8h.01M572.4,372.0h.01M572.4,379.2h.01M572.4,386.4h.01M572.4,393.6h.01M572.4,400.8h.01M572.4,408.0h.01M572.4,415.2h.01M578.6,231.6h.01M578.6,238.8h.01M578.6,246.0h.01M578.6,253.2h.01M578.6,260.4h.01M578.6,267.6h.01M578.6,274.8h.01M578.6,282.0h.01M578.6,289.2h.01M578.6,296.4h.01M578.6,303.6h.01M578.6,310.8h.01M578.6,318.0h.01M578.6,325.2h.01M578.6,332.4h.01M578.6,339.6h.01M578.6,346.8h.01M578.6,354.0h.01M578.6,361.2h.01M578.6,368.4h.01M578.6,375.6h.01M578.6,382.8h.01M578.6,390.0h.01M578.6,397.2h.01M578.6,404.4h.01M578.6,411.6h.01M584.8,235.2h.01M584.8,242.4h.01M584.8,249.6h.01M584.8,256.8h.01M584.8,264.0h.01M584.8,271.2h.01M584.8,278.4h.01M584.8,285.6h.01M584.8,292.8h.01M584.8,300.0h.01M584.8,307.2h.01M584.8,314.4h.01M584.8,321.6h.01M584.8,328.8h.01M584.8,336.0h.01M584.8,343.2h.01M584.8,350.4h.01M584.8,357.6h.01M584.8,364.8h.01M584.8,372.0h.01M584.8,379.2h.01M584.8,386.4h.01M584.8,393.6h.01M584.8,400.8h.01M584.8,408.0h.01M584.8,480.0h.01M584.8,487.2h.01M584.8,494.4h.01M591.0,231.6h.01M591.0,238.8h.01M591.0,246.0h.01M591.0,253.2h.01M591.0,260.4h.01M591.0,267.6h.01M591.0,274.8h.01M591.0,282.0h.01M591.0,289.2h.01M591.0,296.4h.01M591.0,303.6h.01M591.0,310.8h.01M591.0,318.0h.01M591.0,325.2h.01M591.0,332.4h.01M591.0,339.6h.01M591.0,346.8h.01M591.0,354.0h.01M591.0,361.2h.01M591.0,368.4h.01M591.0,375.6h.01M591.0,382.8h.01M591.0,390.0h.01M591.0,397.2h.01M591.0,483.6h.01M591.0,490.8h.01M591.0,498.0h.01M597.2,235.2h.01M597.2,242.4h.01M597.2,249.6h.01M597.2,256.8h.01M597.2,264.0h.01M597.2,271.2h.01M597.2,278.4h.01M597.2,285.6h.01M597.2,292.8h.01M597.2,300.0h.01M597.2,307.2h.01M597.2,314.4h.01M597.2,321.6h.01M597.2,328.8h.01M597.2,336.0h.01M597.2,343.2h.01M597.2,350.4h.01M597.2,357.6h.01M597.2,364.8h.01M597.2,372.0h.01M597.2,379.2h.01M597.2,386.4h.01M597.2,393.6h.01M597.2,480.0h.01M597.2,487.2h.01M597.2,494.4h.01M603.4,238.8h.01M603.4,246.0h.01M603.4,253.2h.01M603.4,260.4h.01M603.4,267.6h.01M603.4,274.8h.01M603.4,282.0h.01M603.4,289.2h.01M603.4,296.4h.01M603.4,303.6h.01M603.4,310.8h.01M603.4,318.0h.01M603.4,325.2h.01M603.4,332.4h.01M603.4,339.6h.01M603.4,346.8h.01M603.4,354.0h.01M603.4,361.2h.01M603.4,368.4h.01M603.4,375.6h.01M603.4,382.8h.01M609.6,235.2h.01M609.6,242.4h.01M609.6,249.6h.01M609.6,256.8h.01M609.6,264.0h.01M609.6,271.2h.01M609.6,278.4h.01M609.6,285.6h.01M609.6,292.8h.01M609.6,300.0h.01M609.6,307.2h.01M609.6,314.4h.01M609.6,321.6h.01M609.6,328.8h.01M609.6,336.0h.01M609.6,343.2h.01M609.6,350.4h.01M609.6,357.6h.01M609.6,364.8h.01M609.6,372.0h.01M609.6,379.2h.01M615.8,246.0h.01M615.8,253.2h.01M615.8,260.4h.01M615.8,267.6h.01M615.8,274.8h.01M615.8,282.0h.01M615.8,289.2h.01M615.8,296.4h.01M615.8,303.6h.01M615.8,310.8h.01M615.8,318.0h.01M615.8,325.2h.01M615.8,332.4h.01M615.8,339.6h.01M615.8,346.8h.01M615.8,354.0h.01M615.8,361.2h.01M622.0,249.6h.01M622.0,256.8h.01M622.0,264.0h.01M622.0,271.2h.01M622.0,278.4h.01M622.0,285.6h.01M622.0,292.8h.01M622.0,300.0h.01M622.0,307.2h.01M622.0,314.4h.01M622.0,321.6h.01M622.0,328.8h.01M622.0,336.0h.01M622.0,343.2h.01M628.2,260.4h.01M628.2,267.6h.01M628.2,274.8h.01M628.2,282.0h.01M628.2,289.2h.01M628.2,296.4h.01M628.2,303.6h.01M628.2,310.8h.01M628.2,318.0h.01M628.2,325.2h.01M628.2,332.4h.01M628.2,339.6h.01M634.4,271.2h.01M634.4,278.4h.01M634.4,285.6h.01M634.4,292.8h.01M634.4,300.0h.01M634.4,307.2h.01M634.4,314.4h.01M634.4,321.6h.01M634.4,328.8h.01M634.4,336.0h.01M640.6,267.6h.01M640.6,274.8h.01M640.6,282.0h.01M640.6,289.2h.01M640.6,296.4h.01M640.6,303.6h.01M640.6,310.8h.01M640.6,318.0h.01M640.6,325.2h.01M640.6,332.4h.01M646.8,271.2h.01M646.8,278.4h.01M646.8,285.6h.01M646.8,292.8h.01M646.8,300.0h.01M646.8,307.2h.01M646.8,314.4h.01M646.8,321.6h.01M646.8,328.8h.01M653.0,267.6h.01M653.0,274.8h.01M653.0,282.0h.01M653.0,289.2h.01M653.0,296.4h.01M653.0,303.6h.01M653.0,310.8h.01M653.0,318.0h.01M659.2,264.0h.01M659.2,271.2h.01M659.2,278.4h.01M659.2,285.6h.01M659.2,292.8h.01M659.2,300.0h.01M659.2,307.2h.01M659.2,314.4h.01M665.4,267.6h.01M665.4,274.8h.01M665.4,282.0h.01M665.4,289.2h.01M665.4,296.4h.01M665.4,303.6h.01M671.6,278.4h.01M671.6,285.6h.01M671.6,292.8h.01M671.6,300.0h.01M677.8,289.2h.01M677.8,296.4h.01" stroke="#f3f7fb" stroke-width="1.6" stroke-linecap="round" fill="none"/>
<path d="M76,632.5v-10h6v10zM83,632.5v-5h3v5zM108,632.5v-5h4v5zM114,632.5v-8h6v8zM140,632.5v-4h8v4zM152,632.5v-6h5v6zM161,632.5v-19h6v19zM167,632.5v-21h5v21zM172,632.5v-16h8v16zM181,632.5v-6h5v6zM190,632.5v-9h5v9zM195,632.5v-10h5v10zM208,632.5v-5h6v5zM216,632.5v-8h5v8zM220,632.5v-16h8v16zM228,632.5v-18h7v18zM235,632.5v-23h6v23zM241,632.5v-25h5v25zM246,632.5v-47h10v47zM256,632.5v-44h7v44zM263,632.5v-30h5v30zM270,632.5v-12h8v12zM70,632.5v-2.5h210v2.5z" fill="#fff" opacity=".8"/>
<path d="M300,632.5v-14h6v14zM310,632.5v-22h8v22zM322,632.5v-16h6v16zM345,632.5v-60h10v60zM357,632.5v-84h9v84zM368,632.5v-50h8v50zM380,632.5v-30h7v30zM392,632.5v-40h8v40zM404,632.5v-24h6v24zM415,632.5v-16h7v16z" fill="#fff" opacity=".4"/>
<path d="M470,632.5v-10h6v10zM480,632.5v-18h8v18zM492,632.5v-12h6v12zM505,632.5v-22h7v22zM514,632.5v-30h6v30zM522,632.5v-20h7v20zM536,632.5v-10h8v10zM552,632.5v-14h6v14zM566,632.5v-8h8v8zM590,632.5v-12h6v12zM604,632.5v-16h7v16zM614,632.5v-22h6v22zM622,632.5v-12h8v12zM636,632.5v-8h6v8zM655,632.5v-6h8v6z" fill="#fff" opacity=".33"/>
<path d="M-5,584 Q60,618 150,631M-5,590 Q60,620 150,631M-5,596 Q60,622 150,631M-5,602 Q60,624 150,631M-5,608 Q60,626 150,631M-5,614 Q60,628 150,631M-5,600 Q120,640 330,600M-5,607 Q120,640 330,605M-5,614 Q120,640 330,610M-5,621 Q120,640 330,615M-5,628 Q120,640 330,620M-5,640 Q130,640 300,634M-5,649 Q130,644 300,636M-5,658 Q130,648 300,638M-5,667 Q130,652 300,640M-5,676 Q130,656 300,642M-5,685 Q130,660 300,644M-5,694 Q130,664 300,646" stroke="#fff" stroke-width="1" fill="none" opacity=".42"/>
<path d="M140.4,229.2L108.8,281.9Q104.2,289.6 108.6,297.4L190.0,441.5L226.0,398.0L161.4,275.3L144.5,245.0Q141,238 140.6,231Z" fill="#fff" stroke="#1a9a48" stroke-width="2.6" stroke-linejoin="round" stroke-linecap="round"/>
<path d="M161.4,275.3 L144.5,245 Q141,238 140.8,231.5 Q140.6,221.6 150.4,221 L223.2,221 L225.4,208 Q225.8,205.6 227.7,207.3 L272.3,247.9 Q274.6,250 272.3,252.1 L227.6,291.9 Q225.6,293.6 225.2,291 L223,275.3 Z" fill="#fff" stroke="#1a9a48" stroke-width="2.6" stroke-linejoin="round" stroke-linecap="round"/>
<path d="M395,220.6 L563,220.6 Q571,220.6 575,227 L604.5,277.5 L597,275.8 L425,275.4 Z" fill="#fff" stroke="#d7201f" stroke-width="2.8" stroke-linejoin="round" stroke-linecap="round"/>
<path d="M557,275.8 L597,275.9 Q612.5,277.5 609,291 L573.8,357 L585.6,365.5Q587.6,367.0 585.2,367.8L527.1,386.9Q523.3,388.2 522.4,384.3L509.7,325.8Q509.2,323.4 511.5,324.4L525.7,330.7 Z" fill="#fff" stroke="#d7201f" stroke-width="2.8" stroke-linejoin="round" stroke-linecap="round"/>
<path d="M420.3,570 L340,708.6 Q335,716.5 327,717.6 L393.8,717.6 Q400.8,717 404.8,710.5 L482.3,570 Z" fill="#fff" stroke="#1565ad" stroke-width="3.3" stroke-linejoin="round" stroke-linecap="round"/>
<path d="M357.5,677.7 L327.0,623.2L338.4,614.6Q340.8,612.8 337.9,611.9L280.8,593.8Q277.0,592.6 276.1,596.5L263.3,653.9Q262.6,656.8 265.5,656.0L280.0,652.0L316.9,712.5 Q320,717.6 327,717.6 Q335,716.5 340,708.6 Z" fill="#fff" stroke="#1565ad" stroke-width="3.3" stroke-linejoin="round" stroke-linecap="round"/>
<path d="M359.3,135 L233.9,352 L484.1,352 Z" fill="url(#gr)"/>
<path d="M223,363.7 L96.4,580.4 L348,580.4 Z" fill="url(#gg)"/>
<path d="M494.9,363.7 L369.9,580.4 L620.2,580.4 Z" fill="url(#gb)"/>
<path d="M268,372 L274,383.6" stroke="#86c992" stroke-width="1.4"/>
<path d="M267.5,371 L274.5,384.5 L291.5,418 L280.5,426 L259,387 Z" fill="url(#sg1)"/>
<path d="M267.5,371 L290.5,370.5 L290.5,366 L304,377.5 L290.5,389 L290.5,384 L274.5,384.5 Z" fill="url(#sg2)"/>
<path d="M450.3,384.7 L463,386.8" stroke="#bf2020" stroke-width="1.4"/>
<path d="M410.5,371 L454.5,371 L464,387 L449.5,384.5 L410.5,384.5 Q409.3,384.5 409.3,383.3 L409.3,372.2 Q409.3,371 410.5,371 Z" fill="url(#sr1)"/>
<path d="M449.5,384.5 L464,387 L455.5,406.5 L458,409.5 L441.5,415.5 L437.5,398.5 L443,401 Z" fill="url(#sr2)"/>
<path d="M357.6,532.3 L352.1,542.8" stroke="#1c3f8a" stroke-width="1.4"/>
<path d="M379.2,498.6 Q379.8,497.6 380.9,498.2 L389.4,503.2 Q390.6,503.9 390,505 L370,541.6 Q368.8,543.6 366.6,543.6 L351.7,543.6 L358,531.5 Z" fill="url(#sb1)"/>
<path d="M358,531.5 L351.7,543.6 L351,543.6 Q349,543.6 347.8,541.8 L336.5,525.5 L332.5,527 L337,509.5 L353.5,515 L350.5,518.5 Z" fill="url(#sb2)"/>
<circle cx="360.1" cy="362.6" r="47.6" fill="#fff"/>
<circle cx="360.1" cy="362.6" r="42.9" fill="url(#cr)"/>
<circle cx="281.5" cy="479.3" r="47.6" fill="#fff"/>
<circle cx="281.5" cy="479.3" r="42.9" fill="url(#cg)"/>
<circle cx="436" cy="478.6" r="47.6" fill="#fff"/>
<circle cx="436" cy="478.6" r="42.9" fill="url(#cb)"/>
<text transform="translate(218.93,89.92) scale(1.11,1)" x="0 35.34 70.64 105.98 141.29" y="0" font-size="31" font-weight="900" fill="#0c0c0c" stroke="#0c0c0c" stroke-width="0.7">产融内循环</text>
<text transform="translate(449.64,89.75) scale(1.13,1)" x="0 36.61 73.19 109.8 146.38" y="0" font-size="30.7" font-weight="900" fill="#0c0c0c" stroke="#0c0c0c" stroke-width="0.7">经济外循环</text>
<text x="321.17 362.31" y="273.63" font-size="32" font-weight="700" fill="#fff" stroke="#fff" stroke-width="0.6">市场</text>
<text x="157.99 199.57" y="542.62" font-size="31.7" font-weight="700" fill="#fff" stroke="#fff" stroke-width="0.3">产品</text>
<text x="487.18 529.92" y="543.46" font-size="32.5" font-weight="700" fill="#fff" stroke="#fff" stroke-width="0.3">品牌</text>
<text x="336.08 361.86" y="373.31" font-size="22.6" font-weight="700" fill="#fff" stroke="#fff" stroke-width="0.5">文旅</text>
<text x="258.35 283.23" y="486.96" font-size="23.3" font-weight="700" fill="#fff" stroke="#fff" stroke-width="0.5">农业</text>
<text x="411.76 435.97" y="486.96" font-size="23.2" font-weight="700" fill="#fff" stroke="#fff" stroke-width="0.5">制造</text>
<text x="319 335.53 352.07 368.6 385.14" y="442.83" font-size="16" font-weight="900" fill="#111">产融内循环</text>
<text x="201.85 218.15 234.43 250.72 267" y="705.54" font-size="16.5" font-weight="900" fill="#111">经济外循环</text>
<text x="238.21 250.55 262.9 275.24" y="367.38" font-size="12" font-weight="500" fill="#151515">场景营销</text>
<text x="411.63 424.11 436.59 449.05" y="366.94" font-size="12" font-weight="500" fill="#151515">产业推动</text>
<text x="112.82 125.07 137.31 149.54" y="297.37" font-size="12" font-weight="500" fill="#151515">订单加持</text>
<text x="126.23 138.28 150.32 162.37" y="318.24" font-size="12" font-weight="500" fill="#151515">产业增效</text>
<text x="137.25 149.45 161.64 173.84" y="338.98" font-size="12" font-weight="500" fill="#151515">需求供给</text>
<text x="151.08 163.47 175.85 188.25" y="359.98" font-size="12" font-weight="500" fill="#151515">经济效益</text>
<text transform="translate(430.24,159.38) scale(1.17,1)" x="0 20.78 41.55 62.33 83.11" y="0" font-size="19.75" font-weight="700" fill="#d32027">资源引进来</text>
<path d="M422,167.3H557" stroke="#d32027" stroke-width="1.2"/>
<text x="432.28 444.98 458.6 462.88 475.58 489.2 493.48 506.18 519.8 524.1 536.78" y="183.04" font-size="12" font-weight="500" fill="#d32027">资本/产业/人才/技术</text>
<text x="419.6" y="197.7" font-size="11.8" font-weight="500" fill="#d32027">1.</text>
<text x="438.63 450.95 463.27 475.6 487.92 500.25 512.57 524.89 537.21 549.54" y="197.96" font-size="12" font-weight="500" fill="#d32027">产业导入、科技创新等</text>
<text x="419.6" y="212" font-size="11.8" font-weight="500" fill="#d32027">2.</text>
<text x="438.51 450.84 463.18 475.52 487.86 500.19 512.53 524.87 537.2 549.54" y="212.27" font-size="12" font-weight="500" fill="#d32027">就业创业、成果转化等</text>
<text x="446.68 459.12 471.56 484.01" y="243.54" font-size="12" font-weight="500" fill="#151515">金融赋能</text>
<text x="507.74 519.94 532.13 544.33" y="243.45" font-size="12" font-weight="500" fill="#151515">品牌溢价</text>
<text x="452.44 464.92 477.38 489.86" y="260.47" font-size="12" font-weight="500" fill="#151515">品质品效</text>
<text x="515.21 519.04 527.03 539.33" y="260.47" font-size="12" font-weight="500" fill="#151515">IP形象</text>
<text transform="translate(33.31,424.94) scale(1.17,1)" x="0 21.04 42.08 63.12 84.16" y="0" font-size="19.3" font-weight="700" fill="#1d9a4a">要素相流动</text>
<path d="M25,431.8H163.5" stroke="#1d9a4a" stroke-width="1.2"/>
<text x="17.2 29.34 42.1 46.13 58.27 70.42 83.2 87.2 99.35 112.1 116.13 128.28 141 145.07 157.21" y="449.22" font-size="12" font-weight="500" fill="#1d9a4a">土地/劳动力/资本/技术/数据</text>
<text transform="translate(477.79,635) scale(1.17,1)" x="0 21.11 42.22 63.33 84.44" y="0" font-size="19.6" font-weight="700" fill="#1766ab">品牌走出去</text>
<path d="M470,642.1H605.7" stroke="#1766ab" stroke-width="1.2"/>
<text x="477.97 490.56 503.16 515.75 528.34 541.8 546.04 558.63 571.23 583.82" y="659.43" font-size="12" font-weight="500" fill="#1766ab">影响力塑造/营销转化</text>
<text x="482.4" y="674.9" font-size="11.8" font-weight="500" fill="#1766ab">1.</text>
<text x="493.18 505.52 517.88 530.22 542.58 554.92 567.28 579.62" y="675.17" font-size="12" font-weight="500" fill="#1766ab">区域公用品牌营销</text>
<text x="459.6" y="689.6" font-size="11.8" font-weight="500" fill="#1766ab">2.</text>
<text x="478.31 490.59 502.87 515.16 527.44 539.72 552 564.29 576.57 588.85 601.13" y="689.88" font-size="12" font-weight="500" fill="#1766ab">农文旅品牌全域推广营销</text>
<text x="394.86 407.12 419.39 431.65" y="634.99" font-size="12" font-weight="500" fill="#151515">城乡融合</text>
<text x="382.61 394.82 407.03 419.24" y="655.75" font-size="12" font-weight="500" fill="#151515">三产融合</text>
<text x="370.61 382.62 394.63 406.65" y="676.01" font-size="12" font-weight="500" fill="#151515">数实融合</text>
<g filter="url(#wm)">
<path d="M299,728.2c-6.2,0-10.6,4.2-10.6,8.2c0,4,4.6,6.9,10.6,6.9c6,0,10.6-3,10.6-7.4c0-2.2-1.4-3.6-3.2-4.2c.6-1.8-.4-3-2.2-3c-1.4,0-2.8.4-5.2-.5z" fill="#fff"/><ellipse cx="298" cy="736.8" rx="5.8" ry="4.1" fill="#b4c1ce"/><ellipse cx="297.3" cy="737.3" rx="3.3" ry="2.4" fill="#fff"/><g fill="none" stroke="#fff" stroke-width="1.9" stroke-linecap="round"><path d="M306.8,728.6q3.2-.8 4.2,2.4"/><path d="M305.6,723.9q8.2-1.8 9.6,6.4"/></g>
<text x="319.41 337.78 356.14 374.49 392.86" y="740.42" font-size="17" font-weight="500" fill="#fff">新农人袁帅</text>
</g>
</svg>
<div class="t" style="left:219px;top:60px;font-size:31px;letter-spacing:4.8px">产融内循环</div>
<div class="t" style="left:450px;top:60px;font-size:31px;letter-spacing:6.6px">经济外循环</div>
<div class="t" style="left:322px;top:243px;font-size:31px;letter-spacing:8.0px">市场</div>
<div class="t" style="left:159px;top:512px;font-size:32px;letter-spacing:9.9px">产品</div>
<div class="t" style="left:489px;top:512px;font-size:32px;letter-spacing:10.3px">品牌</div>
<div class="t" style="left:336px;top:351px;font-size:23px;letter-spacing:3.1px">文旅</div>
<div class="t" style="left:258px;top:464px;font-size:23px;letter-spacing:1.6px">农业</div>
<div class="t" style="left:412px;top:464px;font-size:23px;letter-spacing:1.0px">制造</div>
<div class="t" style="left:319px;top:428px;font-size:15px;letter-spacing:0.1px">产融内循环</div>
<div class="t" style="left:202px;top:690px;font-size:16px;letter-spacing:-0.7px">经济外循环</div>
<div class="t" style="left:239px;top:356px;font-size:12px;letter-spacing:0.1px">场景营销</div>
<div class="t" style="left:412px;top:355px;font-size:12px;letter-spacing:0.2px">产业推动</div>
<div class="t" style="left:113px;top:286px;font-size:12px;letter-spacing:-0.0px">订单加持</div>
<div class="t" style="left:127px;top:307px;font-size:12px;letter-spacing:-0.2px">产业增效</div>
<div class="t" style="left:138px;top:327px;font-size:12px;letter-spacing:-0.1px">需求供给</div>
<div class="t" style="left:151px;top:348px;font-size:12px;letter-spacing:0.1px">经济效益</div>
<div class="t" style="left:431px;top:140px;font-size:20px;letter-spacing:1.2px">资源引进来</div>
<div class="t" style="left:433px;top:172px;font-size:12px;letter-spacing:0.4px">资本/产业/人才/技术</div>
<div class="t" style="left:420px;top:186px;font-size:12px">1.</div>
<div class="t" style="left:439px;top:186px;font-size:12px;letter-spacing:0.1px">产业导入、科技创新等</div>
<div class="t" style="left:420px;top:201px;font-size:12px">2.</div>
<div class="t" style="left:439px;top:201px;font-size:12px;letter-spacing:0.1px">就业创业、成果转化等</div>
<div class="t" style="left:447px;top:232px;font-size:12px;letter-spacing:0.2px">金融赋能</div>
<div class="t" style="left:509px;top:232px;font-size:12px;letter-spacing:-0.1px">品牌溢价</div>
<div class="t" style="left:453px;top:249px;font-size:12px;letter-spacing:0.2px">品质品效</div>
<div class="t" style="left:516px;top:249px;font-size:12px;letter-spacing:0.0px">IP形象</div>
<div class="t" style="left:34px;top:406px;font-size:19px;letter-spacing:2.0px">要素相流动</div>
<div class="t" style="left:18px;top:438px;font-size:12px;letter-spacing:-0.1px">土地/劳动力/资本/技术/数据</div>
<div class="t" style="left:479px;top:616px;font-size:20px;letter-spacing:1.7px">品牌走出去</div>
<div class="t" style="left:479px;top:648px;font-size:12px;letter-spacing:0.3px">影响力塑造/营销转化</div>
<div class="t" style="left:482px;top:664px;font-size:12px">1.</div>
<div class="t" style="left:494px;top:664px;font-size:12px;letter-spacing:0.1px">区域公用品牌营销</div>
<div class="t" style="left:460px;top:678px;font-size:12px">2.</div>
<div class="t" style="left:479px;top:678px;font-size:12px;letter-spacing:0.0px">农文旅品牌全域推广营销</div>
<div class="t" style="left:395px;top:623px;font-size:12px;letter-spacing:-0.0px">城乡融合</div>
<div class="t" style="left:383px;top:644px;font-size:12px;letter-spacing:-0.1px">三产融合</div>
<div class="t" style="left:371px;top:664px;font-size:12px;letter-spacing:-0.3px">数实融合</div>
<div class="t" style="left:320px;top:724px;font-size:17px;letter-spacing:1.4px">新农人袁帅</div>
</body></html>
